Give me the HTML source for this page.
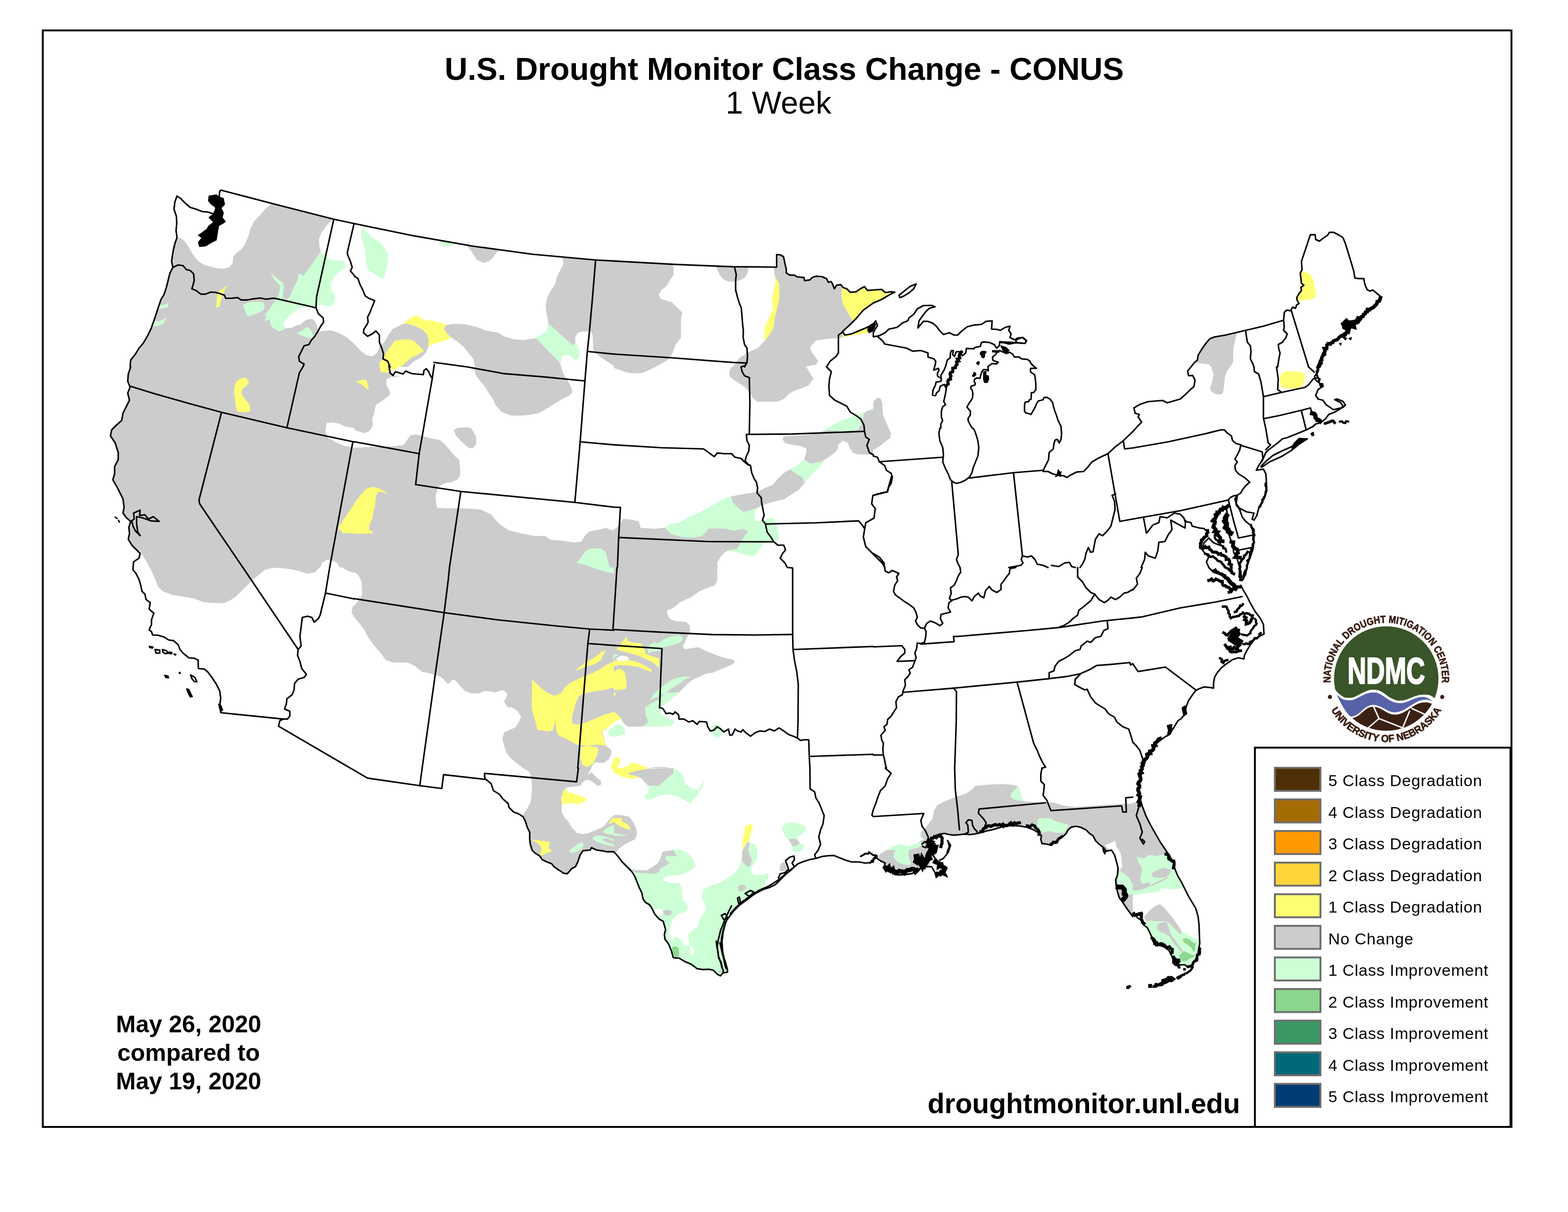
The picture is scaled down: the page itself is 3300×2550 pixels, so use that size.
<!DOCTYPE html>
<html lang="en"><head><meta charset="utf-8"><title>U.S. Drought Monitor Class Change - CONUS</title>
<style>
html,body{margin:0;padding:0;background:#fff;}
body{width:3300px;height:2550px;overflow:hidden;font-family:"Liberation Sans", Arial, Helvetica, sans-serif;}
svg{display:block;}
svg text{font-family:"Liberation Sans", Arial, Helvetica, sans-serif;fill:#000;}
</style></head><body>
<svg xmlns="http://www.w3.org/2000/svg" width="3300" height="2550" viewBox="0 0 3300 2550">
<rect x="0" y="0" width="3300" height="2550" fill="#fff"/>
<defs><clipPath id="us"><path d="M465,400 575,428.8 702.5,461.2 746,470.5 746,470.5 871,496.2 996,518 1121,535 1253.5,547 1292,549.2 1292,549.2 1417,556.2 1542,561.2 1634.5,562 1634.5,535.5 1642,536.2 1649,540 1652,555 1655,567.5 1654.5,573.8 1662,578.8 1672,578.8 1677,582.5 1692,583.8 1693.2,590.5 1704.5,588.8 1709.5,583.8 1717,581.2 1729.5,582 1739.5,586.2 1743.2,593.8 1749.5,592.5 1753.2,600 1755.8,607.5 1760.8,600 1769.5,598.8 1774.5,605 1782,607.5 1789.5,615 1802,613.8 1810.8,607.5 1819.5,603 1825.8,611.2 1838,610 1838,610 1855.5,608.8 1863,615.5 1875.5,613.8 1883,614.5 1870.5,621.2 1855.5,630 1838,637.5 1838,637.5 1817,652.5 1802,670 1789.5,682.5 1773.2,697.5 1778.2,705 1792,702.5 1807,696.2 1822,690 1838,682.5 1838,682.5 1843,675 1846.8,685 1841.8,692.5 1838,700 1838,708.8 1850.5,706.2 1863,700 1870.5,692.5 1888,688.8 1900.5,678.8 1910.5,675 1913,668.8 1923,661.2 1930.5,650 1943,643 1960.5,642.5 1968,645.5 1955.5,648.8 1948,656.2 1940.5,666.2 1934.2,675 1931.8,690 1938,682.5 1943,676.2 1953,676.2 1963,680 1970.5,686.2 1978,696.2 1985.5,703.8 1998,700 2008,705 2015.5,705 2023,697.5 2035.5,687.5 2050.5,683.8 2065.5,682.5 2075.5,676.2 2088,675 2086.8,692.5 2098,693 2105.5,695 2115.5,688.8 2125.5,686.2 2123,695 2128,702.5 2125.5,710 2135.5,715 2141.8,711.2 2153,710 2160.5,717 2156.8,722.5 2138,721.2 2123,723.8 2104.2,718.8 2103,727.5 2097.5,732.5 2092.5,725 2082.5,720.6 2070,719.4 2065.6,720.6 2063.1,728.8 2051.2,731.2 2050,733.8 2033.8,733.1 2032.5,742.5 2025,748.8 2021.2,740 2012.5,740 2008.8,750 2005,746.2 2006.2,737.5 2002.5,737.5 2000,743.8 2000,752.5 1993.8,757.5 1990,771.2 1986.2,780 1980,790 1981.2,798.8 1980,802.5 1970,803.8 1968.8,810 1963.8,820 1962.5,831.2 1968.8,832.5 1971.2,826.2 1976.2,822.5 1978.8,812.5 1987.5,808.8 1990,815 1992.5,811.2 1990,827.5 1986.2,845 1990,851.2 1983.8,856.2 1981.2,865 1981.2,877.5 1983.8,885 1980,892.5 1980,901 1978,901 1976,912 1978,927 1984.2,942 1985.5,957 1984.2,972 1989.2,984.5 1995.5,997 2000.5,1009.5 2006.8,1014.5 2013,1017 2023,1014.5 2033,1009.5 2040.5,1003.2 2045.5,994.5 2048,984.5 2053,972 2058,959.5 2060,942 2058,927 2054.2,914.5 2050.5,904.5 2047.5,901 2046.2,901 2041.2,892.5 2037.5,885 2037.5,880 2041.9,873.8 2042.5,865 2038.8,861.2 2035,856.2 2040,847.5 2043.8,842.5 2046.9,836.2 2047.5,827.5 2046.2,821.2 2043.1,817.5 2043.8,812.5 2051.9,810 2052.5,806.2 2050,802.5 2051.2,797.5 2056.2,795 2062.5,796.2 2063.8,790 2066.2,782.5 2070,777.5 2075,777.5 2080,780 2079.4,771.2 2082.5,768.8 2087.5,765 2097.5,765.6 2100.6,761.9 2093.8,760 2089.4,757.5 2088.8,751.2 2095,746.2 2100,738.8 2103.8,737.5 2112.5,741.2 2117.5,743.8 2125,741.2 2131.2,745 2135,751.2 2145,751.2 2150,755 2162.5,756.2 2167.5,760 2170,765 2175,770 2181.2,775 2168.8,775 2168.8,782.5 2173.8,786.2 2177.5,788.8 2178.8,796.2 2180,807.5 2180,820 2175,826.2 2170.6,826.2 2170,840 2166.2,841.2 2165,845 2157.5,846.2 2156.2,852.5 2156.2,865 2158.8,868.8 2165,870 2170,871.9 2173.8,865 2177.5,858.8 2181.2,850 2185,843.8 2195,841.2 2197.5,836.2 2203.8,836.2 2210,840 2215,846.2 2217.5,856.2 2220,865 2223,872.5 2223,872.5 2226.8,884.5 2233,897 2234.2,912 2233,924.5 2229.2,932 2225.5,924.5 2220.5,925.8 2218,934.5 2216.8,944.5 2208,952 2206.8,967 2201.8,977 2196.8,987 2195.5,992 2205.5,992 2215.5,997 2225.5,999.5 2238,1000.8 2245.5,1004.5 2253,999.5 2265.5,993.2 2280.5,992 2288,984.5 2298,972 2313,963.2 2331.8,954.5 2348,939.5 2363,928.2 2384,908.2 2384,908.2 2394,897 2402.8,888.2 2395.2,877 2397.8,872 2389,869.5 2386.5,858.2 2399,850.8 2416.5,845 2446.5,842.5 2456.5,847.5 2484,839.5 2494,830.8 2504,820.8 2512.8,813.2 2515,799.5 2510.2,790 2501.5,790.5 2499.5,780.8 2506.5,772 2506.5,772 2514,762.5 2520.2,757.5 2521.5,747.5 2529,735 2537.8,722.5 2546.5,712.5 2556.5,708.8 2579,705 2621.5,695 2659,686.2 2701.5,673.8 2702.8,657.5 2707.8,652.5 2716.5,653.8 2720.2,646.2 2726.5,648.8 2729,641.2 2734,638.8 2730.2,632.5 2729,626.2 2734,617.5 2739,611.2 2737.8,605 2744,600 2739,596.2 2737.8,585 2736.5,575 2740.2,567.5 2739,550 2744,535 2757.8,493.8 2767.8,493.8 2769,503.8 2776.5,507.5 2786.5,500 2794,495 2797.8,488.8 2806.5,488.8 2816.5,493.8 2826.5,500 2831.5,512.5 2841.5,545 2849,570 2851.5,585 2859,586.2 2870.2,586.2 2871.5,593.8 2874,602.5 2877.8,610 2884,612.5 2889,610 2896.5,616.2 2904,622.5 2906.5,627.5 2899,637.5 2889,647.5 2876.5,657.5 2864,670 2851.5,680 2839,692.5 2826.5,702.5 2816.5,712.5 2801.5,720 2791.5,730 2784,742.5 2779,755 2775.2,765 2771.5,772 2771.5,772 2774,782 2766.5,792 2769,799.5 2781.5,809.5 2784,813.2 2774,819.5 2769,832 2774,839.5 2784,842 2791.5,852 2799,857 2806.5,862 2816.5,859.5 2826.5,857 2831.5,852 2826.5,844.5 2814,839.5 2809,840.8 2821.5,847 2826.5,854.5 2824,858.2 2809,867 2796.5,872 2789,882 2779,889.5 2769,892 2764,897 2749,904.5 2734,910.8 2721.5,915.8 2709,920.8 2699,923.2 2689,932 2679,939.5 2669,947 2664,952 2656.5,969.5 2649,979.5 2644,989.5 2659,987 2664,997 2665.2,1012 2666,1032 2661.5,1047 2654,1059.5 2649,1069.5 2645.2,1084.5 2639,1094.5 2635.2,1092 2639,1079.5 2624,1077 2609,1069.5 2601.5,1059.5 2599,1049.5 2604,1042 2601.5,1062 2609,1072 2614,1087 2621.5,1097 2631.5,1104.5 2636.5,1117 2639,1129.5 2639,1142 2636.5,1157 2631.5,1172 2626.5,1184.5 2624,1194 2624,1194 2621.5,1209 2614,1221.5 2607.8,1214 2609,1194 2609,1194 2604,1177 2596.5,1162 2594,1147 2589,1132 2584,1117 2581.5,1102 2584,1087 2581.5,1072 2584,1064.5 2574,1067 2566.5,1079.5 2559,1092 2556.5,1107 2561.5,1122 2569,1134.5 2566.5,1147 2554,1142 2544,1132 2534,1142 2529,1154.5 2534,1162 2544,1172 2539,1182 2544,1194 2544,1194 2554,1204 2569,1209 2581.5,1219 2589,1229 2599,1236.5 2609,1232.8 2611.5,1231.5 2616.5,1241.5 2624,1254 2631.5,1269 2641.5,1286.5 2652.8,1301.5 2659,1314 2660.2,1334 2649,1339 2639,1346.5 2631.5,1356.5 2624,1369 2619,1379 2617.8,1386.5 2606.5,1384 2594,1387.8 2581.5,1396.5 2571.5,1404 2562.8,1414 2556.5,1424 2554,1436.5 2554,1447.8 2546.5,1446.5 2534,1445.2 2524,1449 2516.5,1452.8 2509,1462.8 2501.5,1474 2496.5,1486.5 2494,1501.5 2486.5,1511.5 2479,1516.5 2471.5,1529 2461.5,1544 2446.5,1554 2434,1564 2421.5,1584 2411.5,1599 2404,1616 2404,1616 2401.5,1631 2399,1646 2397.8,1661 2399,1678.5 2404,1696 2411.5,1716 2421.5,1736 2431.5,1753.5 2441.5,1771 2451.5,1786 2461.5,1801 2469,1813.5 2472.8,1828.5 2479,1843.5 2486.5,1856 2494,1871 2501.5,1886 2509,1898.5 2516.5,1911 2521.5,1928.5 2523.5,1946 2524,1960 2524.4,1972.5 2525,1985 2522.5,1997.5 2521.2,2007.5 2517.5,2016.2 2512.5,2025 2507.5,2031.2 2500,2035 2493.8,2030 2485,2030 2480,2031.2 2473.8,2031.2 2468.8,2026.2 2468.1,2013.8 2463.8,2007.5 2461.2,2001.2 2456.2,1996.2 2450,1992.5 2443.8,1990 2437.5,1988.8 2432.5,1990 2430,1985 2426.2,1980 2423.8,1972.5 2421.2,1965 2418.8,1960 2418.8,1960 2414,1951 2406.5,1946 2401.5,1936 2394,1931 2389,1923.5 2384,1926 2384,1928.5 2373,1913.5 2363,1898.5 2355.5,1888.5 2351.8,1876 2349.2,1863.5 2348,1851 2351.8,1841 2353,1826 2349.2,1811 2345.5,1798.5 2339.2,1788.5 2328,1791 2323,1783.5 2313,1776 2305.5,1768.5 2300.5,1758.5 2293,1753.5 2285.5,1746 2275.5,1741 2265.5,1738.5 2255.5,1739.8 2248,1746 2243,1754.8 2235.5,1761 2228,1766 2220.5,1771 2213,1778.5 2203,1776 2193,1774.8 2190.5,1766 2191.8,1758.5 2185.5,1752.2 2175.5,1746 2163,1741 2150.5,1738.5 2138,1737.2 2125.5,1737.2 2113,1738.5 2100.5,1742.2 2088,1746 2075.5,1748.5 2063,1752.2 2050.5,1754.8 2040.5,1756 2030.5,1754.8 2020.5,1756 2008,1757.2 1998,1756 1988,1753.5 1978,1754.8 1968,1758.5 1960.5,1763.5 1955.5,1771 1958,1791 1968,1806 1978,1816 1993,1826 1988,1836 1978,1838.5 1970.5,1846 1968,1836 1960.5,1823.5 1948,1823.5 1938,1826 1930.5,1833.5 1918,1838.5 1905.5,1839.8 1893,1841 1883,1839.8 1875.5,1833.5 1865.5,1828.5 1860.5,1823.5 1863,1816 1853,1811 1845.5,1806 1845.5,1799.8 1838,1806 1838,1813.5 1822,1816 1807,1813.5 1792,1813.5 1779.5,1809.8 1767,1804.8 1754.5,1799.8 1742,1800.5 1729.5,1802.2 1717,1806 1704.5,1808.5 1692,1812.2 1679.5,1817.2 1672,1823.5 1664.5,1831 1654.5,1838.5 1647,1846 1639.5,1853.5 1632,1861 1619.5,1867.2 1607,1871 1594.5,1877.2 1584.5,1883.5 1574.5,1891 1564.5,1898.5 1554.5,1906 1544.5,1916 1537,1926 1529.5,1936 1524.5,1948.5 1520.8,1961 1518.2,1976 1517.8,1991 1520,2006 1525.8,2021 1530.5,2038 1530.6,2038 1531.2,2045 1521.2,2047.5 1516.2,2053.1 1510,2050 1501.2,2041.2 1492.5,2039.4 1478.8,2039.8 1467.5,2038.1 1467,2038 1454.5,2028.5 1442,2023.5 1429.5,2016 1417,2014.8 1413.2,2001 1407,1986 1399.5,1976 1398.2,1966 1400.8,1956 1395.8,1938.5 1387,1933.5 1378.2,1923.5 1372,1911 1367,1903.5 1358.2,1898.5 1353.2,1891 1350.8,1878.5 1345.8,1868.5 1340.8,1856 1335.8,1843.5 1329.5,1833.5 1319.5,1823.5 1309.5,1813.5 1302,1803.5 1294.5,1794.8 1292,1792.2 1292,1792.2 1278.5,1792.2 1266,1789.8 1256,1788.5 1244.8,1783.5 1242.2,1788.5 1227.2,1789.8 1221,1798.5 1216,1813.5 1211,1823.5 1203.5,1827.2 1196,1836 1193.5,1838.5 1186,1837.2 1181,1833.5 1174.8,1829.8 1166,1823.5 1161,1817.2 1151,1813.5 1141,1808.5 1136,1801 1126,1794.8 1119.8,1788.5 1116,1776 1114.8,1766 1114.8,1751 1109.8,1741 1106,1728.5 1101,1718.5 1091,1712.2 1081,1708.5 1071,1698.5 1069.8,1691 1058.5,1681 1051,1671 1038.5,1663.5 1033.5,1648.5 1021,1638.5 1019.8,1632.2 1021,1639.8 933.5,1629.8 929.8,1659 883.5,1653 773.5,1637.2 586.2,1527.8 588.8,1516.5 596.2,1512.8 465,1499.5 465,1499.5 462.5,1484 464.5,1469 462.5,1454 455,1439 445,1424 437.5,1414 430,1407.8 417.5,1406.5 417,1389 410,1385.2 397.5,1384 385,1374 378.8,1366.5 375,1356.5 365,1347.8 355,1346.5 345,1340.2 332.5,1336.5 321.2,1336 318.8,1329 313.8,1325.2 318.8,1314 318.8,1304 323.8,1290.2 313.8,1281.5 316.2,1267.8 307.5,1261.5 305,1250.2 298.8,1244 296.2,1231.5 292.5,1219 286.2,1206.5 280,1199 280,1194 280,1194 281.2,1182 292.5,1174.5 295,1164.5 287.5,1157 277.5,1147 270,1134.5 272.5,1122 271.2,1109.5 275,1097 266.2,1089.5 258.8,1079.5 261.2,1067 258.8,1049.5 252.5,1037 246.2,1024.5 237.5,1009.5 241.2,997 241.2,982 248.8,967 248.8,952 242.5,932 232.5,917 235,904.5 245,894.5 256.2,884.5 258.8,869.5 267.5,852 272.5,842 268.8,827 273.8,814.5 268.8,802 270,787 275,772 273.8,772 275,757.5 285,745 292.5,732.5 301.2,722.5 310,707.5 317.5,692.5 323.8,675 328.8,660 333.8,645 338.8,630 345,620 350,605 353.8,590 357.5,575 362.5,565 363.8,562.5 361.2,550 362.5,540 365,525 368.8,510 372.5,500 370.5,485 372,470 371.2,455 366.2,440 368,425 372.5,412.5 380,417.5 390,427.5 400,436.2 412.5,440 425,445 437.5,446.2 450,450 460,425 462.5,402.5ZM1891.8,621.2 1903,612.5 1915.5,602.5 1928,597.5 1923,607.5 1913,616.2 1900.5,623.8 1894.2,626.2ZM2137.5,715.6 2150,710 2160,716.2 2157.5,722.5 2140,721.2ZM2655.2,983.2 2671.5,972 2696.5,960.8 2719,947 2734,934.5 2751.5,923.2 2736.5,925.8 2719,939.5 2699,948.2 2679,958.2 2664,970.8 2654,980.8ZM326.2,1366.5 336.2,1367.8 336.2,1374 328.8,1374.5ZM342,1366.5 350,1369 354.5,1374.5 347.5,1375.2 342.5,1371.5ZM401.2,1420.2 410,1425.2 414.5,1434.5 408.8,1434 403.8,1427.8Z"/></clipPath><pattern id="sp" width="13" height="11" patternUnits="userSpaceOnUse" patternTransform="rotate(33)"><rect width="13" height="11" fill="#000"/><path d="M1 1h4v3h-4z M7 5h4v4h-4z M2 8h2v2h-2z M9 0h2v2h-2z" fill="#fff"/></pattern></defs>
<g clip-path="url(#us)" stroke="none">
<svg x="200" y="350" width="546" height="422" viewBox="200 350 546 422">
<rect x="200" y="350" width="546" height="422" fill="#cccccc"/>
<path fill="#ffffff" d="M350,500 375,499.5 385,503.8 392.5,512.5 400,525 407.5,537.5 417.5,550 430,557.5 445,561.2 460,565 470,565.5 482.5,562.5 490,552.5 491.2,540 497.5,532.5 507.5,525 515,515 522.5,497.5 527.5,480 535,465 547.5,452.5 557.5,440 570,430.5 570,375 350,375Z"/>
<path fill="#ffffff" d="M698.8,460 696.2,465 685,477.5 675,492.5 671.2,505 672.5,520 676.2,530 746,530 746,460Z"/>
<path fill="#ffff73" d="M478.8,600 472.5,610 468.8,620 465,632.5 462.5,645 455,646.8 456.2,632.5 457.5,620 461.2,612.5 470,606.2Z"/>
<path fill="#ccffd5" d="M332.5,642.5 345,641.2 356.2,637 352.5,646.2 342.5,648.8 332.5,650 325,650Z"/>
<path fill="#ccffd5" d="M323.8,675 335,676.2 351.2,667.5 343.8,681.2 330,686.2 320,686.2 315,680Z"/>
<path fill="#ffffff" d="M671.8,500 673,515 674.9,529.4 665.5,642.5 639.2,646.2 625.5,650 616.8,657.5 608,665 600.5,672.5 596.8,678.8 597.4,687.5 603,690.6 614.2,690 623,685 633,682.5 639.2,676.2 648,671.9 658,671.2 663,676.2 666.1,682.5 668,690 671.8,697.5 683,696.2 695.5,695 700,696 716.8,702.5 730,710 746,724 760.5,737.5 760.5,500Z"/>
<path fill="#ccffd5" d="M674.9,529.4 683,536.9 688,541.9 695.5,546.2 704.2,548.1 715.5,547.5 723,549.4 726.8,555 726.1,562.5 720.5,568.1 713,572.5 706.8,578.8 700.5,587.5 694.9,598.8 696.8,608.8 701.8,616.2 704.9,623.8 704.9,632.5 701.8,639.4 696.8,643.8 689.2,644.4 683,642.5 673,641.9 665.5,642.5 653,643.8 639.2,646.2 625.5,650 616.8,657.5 608,665 600.5,672.5 596.8,678.8 597.4,687.5 603,690.6 595.5,693.8 587.4,697.5 579.2,692.5 571.8,687.5 569.2,680 567.4,673.1 565.5,672.2 556.8,676 561.8,663.1 554.9,666 568,648.8 579.2,632.5 583,626.2 586.8,618.8 588.6,610 589.9,601.2 583,595 576.8,587.5 573,580 568.6,572.8 576.8,580 585.5,587.5 594.9,594.4 598,603.8 596.1,613.8 594.9,625 594.9,630 603,630.6 609.9,623.8 616.8,607.5 625.5,591.2 627.4,580 628.6,575 638.6,580 648,567.5 660.5,550 669.2,537.5Z"/>
<path fill="#ccffd5" d="M511.1,642.2 520.5,636.9 531.8,635 543,634.8 553,636.2 556.8,641.2 556.8,647.5 553,653.8 545.5,657.5 535.5,661.2 525.5,665.6 521.1,666 516.8,656.2 513.6,647.5Z"/>
<path fill="#ccffd5" d="M624.9,701.2 635.5,695 646.1,688.1 653,692.5 656.8,700 659.2,706.2 656.8,711 648,711 635.5,706.2Z"/>
</svg>
<svg x="746" y="350" width="546" height="422" viewBox="746 350 546 422">
<path fill="#ccffd5" d="M761,480 766,481.2 783.5,500 798.5,508.8 808.5,520 816,535 816,550 812.2,570 808.5,582.5 802.2,586.2 796,581.2 788.5,576.2 776,570 771,557.5 769.8,540 768.5,525 763.5,510 759.8,495Z"/>
<path fill="#ccffd5" d="M921,500 923.5,507.5 932.2,517.5 938.5,519.5 946,517.5 953.5,517 958.5,512 961,500Z"/>
<path fill="#cccccc" d="M982.2,500 982.2,516.2 991,527.5 998.5,538.8 1003.5,546.2 1016,553 1028.5,550 1036,543.8 1043.5,533.8 1051,525 1051,500Z"/>
<path fill="#cccccc" d="M1183.5,525 1183.5,541.2 1186,555 1178.5,570 1171,585 1168.5,597.5 1158.5,612.5 1151,627.5 1148.5,642.5 1149.8,657.5 1153,672.5 1153.5,680 1206,727.5 1211,720 1210.5,710 1216,700 1226,697.5 1243.5,697.5 1247.2,705 1248.5,736.2 1258.5,747.5 1292,770 1292,525Z"/>
<path fill="#cccccc" d="M936,685 953.5,681.2 981,682.5 1006,688.8 1021,695 1036,697.5 1048.5,700 1063.5,708.8 1081,713.8 1101,715.5 1121,712.5 1131,713.8 1146,730 1161,745 1171,755 1179.8,766.2 1181,772 999.8,772 996,755 986,742.5 976,730 961,717.5 949.8,710 941,702.5 934.8,693.8Z"/>
<path fill="#ccffd5" d="M1153.5,680 1206,727.5 1211,720 1218.5,735 1219.8,747.5 1216,756.2 1208.5,757.5 1201,748.8 1191,746.2 1182.2,748.8 1179.8,766.2 1171,755 1161,745 1146,730 1131,713.8 1121,712.5 1138.5,705 1151,696.2Z"/>
<path fill="#cccccc" d="M848.5,681.2 858.5,681.2 871,685 888.5,692.5 898.5,702.5 902.2,715 901.5,730 896,742.5 886,752.5 871,760 858.5,772 798.5,772 797.2,750 799.8,730 808.5,720 816,707.5 826,692.5Z"/>
<path fill="#ffff73" d="M848.5,681.2 863.5,668.8 878.5,662.5 886,670 896,674.5 906,673.8 921,677.5 938.5,682.5 934.8,692.5 941,702.5 949.8,710 938.5,716.2 926,720 913.5,722.5 901.5,730 902.2,715 898.5,702.5 888.5,692.5 871,685 858.5,681.2Z"/>
<path fill="#ffff73" d="M831,717 851,713.8 868.5,715.5 882.2,727.5 892.2,738.8 881,745 866,752.5 853.5,762.5 843.5,772 798.5,772 798.5,762.5 808.5,747.5 821,730Z"/>
<path fill="#cccccc" d="M746,724 758.5,737.5 771,747.5 783.5,750 793.5,742.5 797.2,732.5 799.8,722.5 803.5,732.5 807.2,745 806,755 798.5,762.5 798.5,772 746,772Z"/>
</svg>
<svg x="1292" y="350" width="546" height="422" viewBox="1292 350 546 422">
<path fill="#cccccc" d="M1417,525 1417,558.8 1418.2,577.5 1409.5,590 1402,602.5 1392,610 1386.5,620 1390.8,628.8 1402,632.5 1414.5,636.2 1424.5,646.2 1435.8,657.5 1433.2,672.5 1433.2,710 1422,725 1414.5,745 1407,756.2 1392,765 1379.5,772 1292,772 1292,525Z"/>
<path fill="#cccccc" d="M1507,550 1507,561.2 1514.5,577.5 1522,587.5 1532,592 1547,592.5 1559.5,588.8 1568.2,583.8 1573.2,573.8 1575.8,562.5 1575.8,550Z"/>
<path fill="#cccccc" d="M1628.2,525 1628.2,562.5 1630.8,580 1632.5,595 1628.2,610 1625,625 1626.5,650 1619.5,667.5 1613.2,680 1609,691.2 1609,717.5 1602,725 1594.5,732.5 1582,737.5 1573.2,742.5 1557,752.5 1549.5,762.5 1542,772 1692,772 1702,770 1717,767.5 1722,760 1717,752.5 1709.5,742.5 1704.5,732.5 1709.5,725 1717,716.2 1742,713 1764.5,711.2 1774.5,710 1773.2,698.8 1794.5,675 1784.5,657.5 1774.5,640 1770.8,622.5 1772,608.8 1772,525Z"/>
<path fill="#ffff73" d="M1772,608.8 1770.8,622.5 1774.5,640 1784.5,657.5 1794.5,675 1838,637.5 1838,575 1772,575Z"/>
<path fill="#ffff73" d="M1773.2,710 1792,706.2 1838,697.5 1838,675 1817,685 1777,700Z"/>
<path fill="#ffff73" d="M1630.8,581.2 1635.8,590 1640,596.2 1640.2,620 1639.5,632.5 1635.8,647.5 1632.5,660 1630,672.5 1628.2,687.5 1624.5,696.2 1617,707.5 1609,718 1609,691.2 1613.2,680 1619.5,667.5 1626.5,650 1625,625 1628.2,610 1632.5,595Z"/>
</svg>
<svg x="1838" y="350" width="546" height="422" viewBox="1838 350 546 422">
<path fill="#ffff73" d="M1838,600 1888,600 1888,625 1838,650Z"/>
</svg>
<svg x="2384" y="350" width="546" height="422" viewBox="2384 350 546 422">
<path fill="#ffff73" d="M2721.5,567.5 2744,571.2 2759,578 2765.2,592.5 2766.5,605 2770.2,615 2767.8,626.2 2759,630 2744,631.2 2732.8,633.8 2721.5,635Z"/>
<path fill="#cccccc" d="M2604,698.8 2599,717.5 2596,732.5 2595.2,750 2596,760 2589,772 2549,772 2544,766.2 2519,763.8 2484,762.5 2534,700Z"/>
</svg>
<svg x="200" y="772" width="546" height="422" viewBox="200 772 546 422">
<rect x="200" y="772" width="546" height="422" fill="#cccccc"/>
<path fill="#ffff73" d="M492.5,817 496.2,804.5 505,796.5 517.5,794.5 524.2,804.5 517.5,813.2 510,818.2 508,828.2 513.8,837 525,850.8 527,864.5 517.5,867.5 498.8,865.8 495,847 493,829.5Z"/>
<path fill="#ffffff" d="M687.5,889.5 700,889 715,891.5 725,897 746,900.8 746,942 725,938.2 705,929.5 690,920.8 685,908.2Z"/>
<path fill="#ffff73" d="M746,1059.5 711.2,1110.8 722.5,1122 746,1122Z"/>
<path fill="#ffffff" d="M673.8,1194 678.8,1183.2 687.5,1178.2 697.5,1178.2 710,1184.5 715,1194Z"/>
<path fill="#ffffff" d="M295,1159.5 302.5,1172 310,1184.5 315,1194 275,1194 275,1159.5Z"/>
</svg>
<svg x="746" y="772" width="546" height="422" viewBox="746 772 546 422">
<path fill="#cccccc" d="M746,772 818.5,772 823.5,789.5 846,792 823.5,793.2 813.5,798.2 813,809.5 821,824.5 819.8,832 806,842 791,852 787.2,869.5 783.5,882 784.8,894.5 778.5,905.8 768.5,911.5 756,908.2 746,904.5Z"/>
<path fill="#cccccc" d="M746,942 771,940.8 813.5,939.5 848.5,937 856,927 863.5,915.8 876,914 888.5,917 906,922 926,925.8 938.5,937 951,952 958.5,960.8 966,967 968.5,984.5 968.5,999.5 963.5,1008.2 951,1014.5 938.5,1015.8 926,1022 921,1029.5 917.2,1042 917.2,1054.5 919.8,1068.2 936,1069.5 961,1069.5 986,1070 1011,1072 1033.5,1082 1043.5,1094.5 1053.5,1104.5 1071,1115.8 1096,1122 1121,1127 1148.5,1128.2 1158.5,1135.8 1183.5,1137.5 1208.5,1141.5 1223.5,1139.5 1231,1127 1239.8,1118.2 1258.5,1114.5 1276,1110.8 1283.5,1114.5 1292,1115.8 1292,1194 746,1194Z"/>
<path fill="#cccccc" d="M998.5,772 998.5,777 1001,789.5 1011,802 1021,814.5 1028.5,827 1036,837 1043.5,853.2 1056,867 1076,874.5 1106,874 1133.5,869.5 1151,859.5 1171,847 1186,838.2 1198.5,832 1204.8,824.5 1201,812 1193.5,799.5 1186,787 1181,772Z"/>
<path fill="#cccccc" d="M954.8,904.5 963.5,900 978.5,899 991,900 997.2,909.5 1002.2,919.5 1002.2,934.5 996,942.5 988.5,943.2 978.5,935.8 968.5,925.8 959.8,917Z"/>
<path fill="#ffff73" d="M799.8,772 818.5,772 821,782 813.5,784.5 801,782Z"/>
<path fill="#ffff73" d="M822.2,772 838.5,772 831,777 823.5,780.8Z"/>
<path fill="#ffff73" d="M747.2,803.2 761,799.5 771,799 774.8,812 776,822 768.5,814.5 758.5,807Z"/>
<path fill="#ffff73" d="M746,1058.2 758.5,1042 771,1028.2 783.5,1024.5 796,1027 808.5,1033.2 818.5,1040.8 806,1035.8 796,1034.5 791,1043.2 789.8,1059.5 786,1077 783.5,1092 777.2,1104.5 777.2,1114.5 787.2,1121.5 771,1122.5 746,1123.2Z"/>
<path fill="#ccffd5" d="M1213.5,1184 1223.5,1172 1233.5,1158.2 1243.5,1154 1263.5,1153.2 1274.8,1162 1278.5,1177 1283.5,1194 1246,1194 1231,1188.2Z"/>
</svg>
<svg x="1292" y="772" width="546" height="422" viewBox="1292 772 546 422">
<path fill="#cccccc" d="M1292,772 1379.5,772 1367,778.2 1352,784.5 1334.5,785.8 1317,783.2 1304.5,778.2 1292,774.5Z"/>
<path fill="#cccccc" d="M1539.5,772 1534.5,782 1535.8,792 1544.5,799.5 1557,807 1569.5,815.8 1577,825.8 1584.5,837 1593.2,845 1637,845 1649.5,839.5 1659.5,829.5 1672,822 1687,817 1702,810.8 1712,797 1704.5,784.5 1697,772Z"/>
<path fill="#cccccc" d="M1838,862 1824.5,864.5 1817,872 1815.8,889.5 1804.5,904.5 1767,908.2 1762,905.8 1742,904.5 1729.5,908.2 1704.5,914.5 1667,917 1649.5,918.2 1647,924.5 1652,932 1667,935.8 1684.5,938.2 1697,943.2 1697,952 1692,967 1707,975.8 1727,972 1739.5,964.5 1754.5,954.5 1762,947 1764.5,934.5 1774.5,927 1784.5,932 1789.5,944.5 1794.5,952 1804.5,955.8 1824.5,956.5 1838,957Z"/>
<path fill="#ccffd5" d="M1838,858.2 1817,868.2 1792,877 1774.5,883.2 1754.5,893.2 1729.5,908.2 1742,904.5 1762,905.8 1767,908.2 1804.5,904.5 1815.8,889.5 1817,872 1824.5,864.5 1838,861.5Z"/>
<path fill="#ccffd5" d="M1692,967 1707,975.8 1727,972 1737,968.2 1722,984.5 1704.5,1002 1693.2,1017 1689.5,1005.8 1662,987.5 1677,979.5Z"/>
<path fill="#cccccc" d="M1538.2,1044.5 1554.5,1041.5 1572,1038.2 1592,1035.8 1609.5,1027 1627,1019.5 1637,1007 1647,997 1662,987.5 1689.5,1005.8 1693.2,1017 1682,1029.5 1667,1039.5 1649.5,1050.8 1627,1055.8 1607,1062 1592,1069.5 1564.5,1077.5 1552,1067 1542,1057Z"/>
<path fill="#cccccc" d="M1292,1114.5 1302,1107 1305.8,1099.5 1312,1091.5 1329.5,1093.2 1344.5,1097 1348.2,1110.8 1379.5,1112.5 1399.5,1110 1404.5,1115.8 1412,1123.2 1424.5,1127 1442,1130.8 1462,1130.8 1478.2,1127 1484.5,1120.8 1492,1111.5 1527,1112 1544.5,1116.5 1563.2,1112 1574.5,1118.2 1564.5,1132 1557,1144.5 1552,1154.5 1532,1158.2 1522,1164.5 1514.5,1174.5 1509.5,1184.5 1510.8,1194 1292,1194Z"/>
<path fill="#ccffd5" d="M1399.5,1110 1412,1102 1429.5,1099.5 1447,1089.5 1472,1078.2 1492,1067 1512,1055.8 1527,1048.2 1538.2,1044.5 1542,1057 1552,1067 1564.5,1077.5 1592,1069.5 1603.2,1072 1605.8,1084.5 1604.5,1094.5 1627,1089 1633.2,1099.5 1637,1114.5 1640.2,1134.5 1628.2,1139.5 1607,1142 1602,1152 1595.8,1162 1583.2,1171.5 1567,1167 1549.5,1162 1532,1158.2 1552,1154.5 1557,1144.5 1564.5,1132 1574.5,1118.2 1563.2,1112 1544.5,1116.5 1527,1112 1492,1111.5 1484.5,1120.8 1478.2,1127 1462,1130.8 1442,1130.8 1424.5,1127 1412,1123.2 1404.5,1115.8Z"/>
<path fill="#ffffff" d="M1588.2,1079.5 1592,1070.8 1603.2,1072 1605.8,1084.5 1604.5,1094.5 1594.5,1097 1588.2,1094.5Z"/>
</svg>
<svg x="1838" y="772" width="546" height="422" viewBox="1838 772 546 422">
<path fill="#cccccc" d="M1838,844.5 1845.5,837 1853,837.5 1856.8,847 1858,872 1865.5,889.5 1875.5,912 1873,922 1863,929.5 1850.5,939.5 1838,947Z"/>
</svg>
<svg x="2384" y="772" width="546" height="422" viewBox="2384 772 546 422">
<path fill="#cccccc" d="M2549,772 2554,787 2551.5,802 2546.5,817 2550.2,824.5 2559,829.5 2569,830 2574,825.8 2576.5,809.5 2577.8,794.5 2581.5,782 2589,772Z"/>
<path fill="#ffff73" d="M2694,792 2699,784.5 2709,780.8 2729,781.5 2741.5,783.2 2746.5,789.5 2746,802 2741.5,812 2729,817 2709,817.5 2696.5,814.5 2694,802Z"/>
</svg>
<svg x="200" y="1194" width="546" height="422" viewBox="200 1194 546 422">
<path fill="#cccccc" d="M315,1194 322.5,1209 327.5,1221.5 332.5,1234 342.5,1244 362.5,1251.5 385,1255.2 407.5,1259 427.5,1266.5 445,1268.5 470,1269 482.5,1264 495,1256.5 505,1246.5 517.5,1234 530,1221.5 545,1209 557.5,1199 575,1194.5 600,1196 625,1200.2 647.5,1207 662.5,1204.5 672.5,1194Z"/>
<path fill="#cccccc" d="M720,1194 732.5,1201.5 746,1205.2 746,1194Z"/>
<path fill="#cccccc" d="M746,1271.5 741.2,1279 740,1289 746,1299Z"/>
</svg>
<svg x="746" y="1194" width="546" height="422" viewBox="746 1194 546 422">
<rect x="746" y="1194" width="546" height="422" fill="#cccccc"/>
<path fill="#ffffff" d="M746,1204 753.5,1209 761,1224 762.2,1251.5 756,1261.5 746,1274Z"/>
<path fill="#ffffff" d="M746,1299 756,1311.5 766,1324 773.5,1339 786,1356.5 801,1374 812.2,1389 828.5,1394 858.5,1394 873.5,1401.5 888.5,1413.5 901,1416 918.5,1420.2 931,1426.5 941,1437.8 946,1437.8 951,1430.2 957.2,1430.2 966,1440.2 978.5,1454 991,1458.5 1008.5,1459 1017.2,1454 1028.5,1454 1041,1457 1056,1452 1062.2,1454 1068,1461.5 1060.5,1476.5 1068.5,1487.8 1078.5,1488.5 1089.8,1496.5 1096.5,1507.8 1092.2,1519 1084.8,1530.2 1073.5,1535.2 1061.5,1540.2 1057.2,1554 1061.5,1571.5 1066,1584 1076,1596.5 1088.5,1606.5 1101,1616 746,1616Z"/>
<path fill="#ffff73" d="M1119.8,1429 1131,1440.2 1146,1454 1166,1464 1181,1457.8 1188.5,1446.5 1199.8,1437 1193.5,1450.2 1183.5,1464 1176,1489 1168.5,1516.5 1163.5,1536.5 1152.2,1539 1131,1535.2 1126,1516.5 1119,1491.5Z"/>
<path fill="#ffff73" d="M1199.8,1437 1216,1429 1231,1421.5 1246,1416.5 1261,1409 1276,1399 1292,1391.5 1292,1446.5 1271,1451.5 1246,1455.2 1231,1459 1218.5,1464 1211,1481.5 1203.5,1509 1204.8,1522.8 1218.5,1524 1236,1519 1256,1510.2 1271,1504 1292,1497.8 1292,1526.5 1278.5,1531.5 1266,1540.2 1271,1554 1274.8,1569 1256,1566.5 1236,1569 1213.5,1566.5 1196,1556.5 1176,1547.8 1171,1539 1168.5,1516.5 1176,1489 1183.5,1464 1193.5,1450.2Z"/>
<path fill="#ffff73" d="M1209.8,1412 1221,1401.5 1236,1391.5 1253.5,1381.5 1264.8,1372.8 1276,1366.5 1268.5,1379 1264.8,1389 1251,1397.8 1236,1401.5 1221,1407.8Z"/>
<path fill="#ffff73" d="M1223.5,1571.5 1236,1569 1256,1572 1259.8,1576.5 1256,1591.5 1248.5,1606.5 1236,1614 1226,1609 1221,1594Z"/>
<path fill="#ffffff" d="M1292.5,1520 1280,1530 1267.5,1540 1271.2,1552.5 1275,1568.8 1286.2,1577.5 1286.2,1587.5 1280,1598.8 1270,1605 1252.5,1603.8 1246.8,1610.2 1244.2,1616 1292,1616Z"/>
<path fill="#ccffd5" d="M1292,1530.2 1283.5,1534 1278.5,1541.5 1283.5,1549 1292,1550.2Z"/>
<path fill="#ccffd5" d="M1246,1194 1261,1199 1278.5,1204 1292,1206.5 1292,1194Z"/>
<path fill="#ccffd5" d="M1292,1376.5 1289,1386.5 1292,1389Z"/>
</svg>
<svg x="1292" y="1194" width="546" height="422" viewBox="1292 1194 546 422">
<path fill="#cccccc" d="M1292,1194 1509.5,1194 1509.5,1221.5 1504.5,1231.5 1489.5,1236.5 1472,1244 1454.5,1256.5 1432,1266.5 1417,1279 1404.5,1284 1404,1291.5 1409.5,1301.5 1419.5,1306.5 1434.5,1307.8 1444.5,1309 1452,1316.5 1452,1330.2 1448.2,1336.5 1442,1349 1437,1360.2 1442,1366 1454.5,1364 1469.5,1361.5 1482,1367.8 1497,1374 1512,1380.2 1529.5,1385.2 1543.2,1387.8 1547,1392.8 1539.5,1399 1527,1404 1512,1410.2 1499.5,1415.2 1484.5,1417.8 1472,1424 1457,1430.2 1448.2,1437.8 1439.5,1446.5 1432,1454 1427,1459 1417,1466.5 1409.5,1474 1399.5,1481.5 1388.2,1487.8 1389.5,1501.5 1402,1510.2 1414.5,1514 1419.5,1519 1412,1527.8 1379.5,1529 1352,1528.5 1322,1529 1312,1521.5 1307,1511.5 1292,1504Z"/>
<path fill="#ccffd5" d="M1367,1356.5 1377,1351.5 1384.5,1354 1397,1345.2 1412,1339 1429.5,1336 1437,1341.5 1435.8,1349 1422,1355.2 1404.5,1360.2 1393.2,1362 1389.5,1369 1379.5,1370.2 1369.5,1371.5 1364.5,1375.2 1363.2,1366.5Z"/>
<path fill="#ccffd5" d="M1367,1474 1377,1459 1387,1449 1399.5,1440.2 1414.5,1430.2 1429.5,1425.2 1442,1422.8 1455.8,1425.2 1442,1429 1434.5,1435.2 1424.5,1441.5 1412,1449 1404.5,1455.2 1387,1465.2 1377,1469Z"/>
<path fill="#ccffd5" d="M1399.5,1457.8 1428.2,1456.5 1427,1460.2 1417,1466.5 1409.5,1474 1399.5,1481.5 1388.2,1487.8 1389.5,1501.5 1402,1510.2 1414.5,1514 1419.5,1519 1412,1527.8 1379.5,1529 1352,1528.5 1364.5,1519 1359.5,1506.5 1357,1489 1367,1481.5 1387,1471.5Z"/>
<path fill="#ccffd5" d="M1497,1529 1504.5,1523.5 1514.5,1526.5 1518.2,1534 1519.5,1544 1512,1552 1504.5,1550.2 1497,1541.5Z"/>
<path fill="#ccffd5" d="M1292,1526.5 1304.5,1524 1314.5,1530.2 1315.8,1544 1304.5,1547.8 1292,1550.2Z"/>
<path fill="#ccffd5" d="M1292,1375.2 1302,1377.8 1292,1384Z"/>
<path fill="#ffff73" d="M1297,1366.5 1307,1354 1319.5,1338.5 1319,1347.8 1329.5,1351.5 1349.5,1354 1354.5,1361.5 1359.5,1376.5 1387,1385.2 1386.5,1405.2 1374.5,1394 1359.5,1386.5 1342,1379 1324.5,1374 1309.5,1370.2Z"/>
<path fill="#ffff73" d="M1292,1389 1307,1391.5 1324.5,1389 1342,1392.8 1359.5,1401.5 1372,1409 1370.8,1414 1357,1409 1342,1402.8 1322,1400.2 1307,1399 1292,1401.5Z"/>
<path fill="#ffffff" d="M1295.8,1386.5 1307,1379 1319.5,1381.5 1324.5,1385.2 1318.2,1391 1302,1391Z"/>
<path fill="#ffff73" d="M1292,1414 1299.5,1407.8 1307,1407.8 1314.5,1414 1317,1426.5 1319,1441.5 1317,1449 1307,1451.5 1292,1451.5Z"/>
<path fill="#ffff73" d="M1292,1456.5 1295.8,1457.8 1294.5,1465.2 1292,1465.2Z"/>
<path fill="#ffff73" d="M1292,1496.5 1307,1511.5 1302,1515.2 1292,1517.8Z"/>
<path fill="#ffff73" d="M1292,1600.2 1302,1591.5 1304.5,1604 1299.5,1616 1292,1616Z"/>
<path fill="#ffff73" d="M1312,1616 1334.5,1604 1349.5,1610.2 1364.5,1616Z"/>
<path fill="#cccccc" d="M1364.5,1616 1379.5,1614 1399.5,1614 1409.5,1616Z"/>
</svg>
<svg x="1838" y="1194" width="546" height="422" viewBox="1838 1194 546 422">
</svg>
<svg x="2384" y="1194" width="546" height="422" viewBox="2384 1194 546 422">
</svg>
<svg x="746" y="1616" width="546" height="422" viewBox="746 1616 546 422">
<path fill="#cccccc" d="M1101,1616 1113.5,1623.5 1118.5,1636 1119.8,1658.5 1117.2,1686 1108.5,1703.5 1099.8,1716 1071,1716 1071,1866 1292,1866 1292,1616Z"/>
<path fill="#ffffff" d="M1191,1657.2 1221,1653.5 1229.8,1642.2 1244.8,1616 1292,1616 1292,1716 1281,1726 1271,1738.5 1256,1746 1238.5,1753 1226,1754.8 1213.5,1752.2 1203.5,1741 1196,1728.5 1187.2,1718.5 1182.2,1708.5 1182.2,1691 1181,1681 1184.8,1666Z"/>
<path fill="#cccccc" d="M1228.5,1643.5 1236,1631 1244.8,1624.8 1256,1636 1264.8,1643.5 1264.8,1651 1258.5,1653.5 1246,1644 1236,1640.5Z"/>
<path fill="#ffff73" d="M1192.2,1657.2 1193.5,1666 1208.5,1669.8 1221,1674.8 1234.8,1680.5 1229.8,1687.2 1221,1691 1208.5,1691 1196,1689.8 1182.2,1693.5 1181.5,1681 1184.8,1666Z"/>
<path fill="#ffff73" d="M1116,1766 1136,1768.5 1157.2,1771 1154.8,1783.5 1161.5,1791 1151,1794.8 1139.8,1799.8 1136,1801 1139.8,1788.5 1137.2,1778.5 1128.5,1772.2Z"/>
<path fill="#ccffd5" d="M1198.5,1788.5 1206,1783.5 1213.5,1777.2 1221,1773.5 1227.2,1772.2 1228,1781 1221,1788.5 1208.5,1793.5 1199.8,1794.8Z"/>
<path fill="#ccffd5" d="M1292,1736 1278.5,1741 1268.5,1749.8 1276,1754.8 1292,1756Z"/>
<path fill="#ccffd5" d="M1248.5,1761 1256,1758 1271,1759.8 1292,1766 1292,1781 1271,1776 1256,1771 1247.2,1766Z"/>
<path fill="#cccccc" d="M1266,1766 1276,1763.5 1292,1769.8 1292,1776 1276,1772.2Z"/>
<path fill="#ffff73" d="M1292,1719.8 1284.8,1726 1281,1734.8 1292,1728.5Z"/>
</svg>
<svg x="1292" y="1616" width="546" height="422" viewBox="1292 1616 546 422">
<path fill="#ffff73" d="M1292,1616 1364.5,1616 1349.5,1626 1342,1637.2 1324.5,1638.5 1307,1633.5 1292,1626Z"/>
<path fill="#cccccc" d="M1322,1627.2 1337,1622.2 1364.5,1617.2 1417,1616 1418.2,1626 1402,1639.8 1385.8,1653.5 1364.5,1653.5 1357,1646 1349.5,1637.2 1334.5,1631Z"/>
<path fill="#ccffd5" d="M1417,1616 1427,1621 1437,1631 1440.8,1641 1441.5,1651 1449.5,1653.5 1458.2,1661 1469.5,1661 1477,1648.5 1480.8,1639.8 1479.5,1653.5 1472,1666 1467,1676 1457,1683.5 1454.5,1691 1442,1684.8 1429.5,1677.2 1414.5,1672.2 1392,1672.2 1379.5,1677.2 1369.5,1682.2 1359.5,1681.5 1355.8,1676 1364.5,1666 1365.8,1653.5 1385.8,1653.5 1402,1639.8 1418.2,1626Z"/>
<path fill="#cccccc" d="M1292,1714.8 1307,1714.8 1324.5,1718.5 1332,1728.5 1338.2,1741 1340.8,1753.5 1337,1766 1324.5,1771 1312,1778.5 1302,1786 1297,1793.5 1292,1791Z"/>
<path fill="#ffff73" d="M1292,1721 1307,1721 1309.5,1728.5 1319.5,1733.5 1325.8,1741 1325.8,1746 1317,1743.5 1304.5,1738.5 1292,1729.8Z"/>
<path fill="#ccffd5" d="M1292,1752.2 1307,1756 1322,1756 1307,1759 1292,1758.5Z"/>
<path fill="#ccffd5" d="M1394.5,1792.2 1417,1787.2 1432,1788 1444.5,1793.5 1454.5,1802.2 1462,1813.5 1464,1821 1454.5,1831 1442,1837.2 1432,1841 1480.8,1871 1499.5,1862.2 1517,1856 1532,1847.2 1544.5,1838.5 1553.2,1828.5 1557,1818.5 1560.8,1811 1562,1791 1567,1781 1577,1771 1592,1778.5 1593.2,1791 1594.5,1801 1589.5,1813.5 1582,1823.5 1580.8,1833.5 1587,1841 1602,1841 1617,1837.2 1618.2,1846 1612,1853.5 1608.2,1866 1617,1891 1542,2038 1417,2038 1292,1816 1319.5,1823.5 1337,1831 1374.5,1830.5 1384.5,1816 1392,1798.5Z"/>
<path fill="#cccccc" d="M1319.5,1819.8 1329.5,1826 1337,1836 1362,1837.2 1379.5,1838.5 1388.2,1833.5 1387,1828.5 1402,1821 1409.5,1814.8 1399.5,1808.5 1402,1801 1424.5,1801 1417,1788.5 1394.5,1792.2 1389.5,1808.5 1384.5,1816 1374.5,1823.5 1362,1831 1337,1831Z"/>
<path fill="#ffffff" d="M1395.8,1848.5 1397,1853.5 1409.5,1857.2 1429.5,1858.5 1434,1866 1435.8,1886 1438.2,1896 1445.8,1902.2 1448.2,1908.5 1442,1918.5 1427,1922.2 1417,1933.5 1412,1946 1408.2,1961 1409.5,1976 1414.5,1981 1419.5,1971 1427,1972.2 1437,1981 1439.5,1991 1452,1988.5 1459.5,1996 1462,2003.5 1455.8,2011 1453.2,2002.2 1448.2,1966 1457,1958.5 1469.5,1948.5 1472,1936 1479.5,1923.5 1485.8,1913.5 1484.5,1903.5 1478.2,1893.5 1477,1883.5 1480.8,1871 1432,1841 1422,1842.2 1402,1843.5Z"/>
<path fill="#ffffff" d="M1377,1914.8 1384.5,1911 1392,1913.5 1395.8,1919.8 1392,1927.2 1384.5,1928.5 1378.2,1922.2Z"/>
<path fill="#cccccc" d="M1395.8,1916 1404.5,1914 1414,1917.2 1412,1925.5 1402,1926.5 1395.8,1923.5Z"/>
<path fill="#cccccc" d="M1560.8,1811 1562,1791 1567,1781 1574.5,1769.8 1577,1776 1574.5,1788.5 1579.5,1801 1582.5,1811 1579.5,1821 1574.5,1824 1567,1818.5Z"/>
<path fill="#cccccc" d="M1552,1866 1558.2,1861.5 1567,1862.2 1572,1868.5 1567,1871 1562,1876 1554.5,1874.8Z"/>
<path fill="#cccccc" d="M1640.8,1823.5 1644.5,1816 1652,1813.5 1655.8,1823.5 1654.5,1831 1645.8,1833.5 1640.8,1831Z"/>
<path fill="#ffff73" d="M1568.2,1738.5 1578.2,1734 1585,1737.2 1580.8,1751 1577,1769.8 1572,1772.2 1567,1778.5 1562.5,1791 1563.2,1766 1567,1753.5Z"/>
<path fill="#ccffd5" d="M1647,1738.5 1654.5,1731.5 1667,1730.5 1682,1733 1694.5,1738.5 1695.8,1747.2 1689.5,1753.5 1678.2,1759.8 1683.2,1774.8 1692,1776 1693.2,1782.2 1684.5,1791 1672,1794 1667,1788.5 1665.8,1777.2 1659.5,1766 1652,1758.5 1647,1748.5Z"/>
<path fill="#cccccc" d="M1659.5,1766 1672,1764 1678.2,1768.5 1683.2,1774.8 1672,1781.5 1665.8,1777.2Z"/>
<path fill="#8cd68e" d="M1414,1993.5 1422,1991 1428.2,1994.8 1429.5,2008.5 1427,2013.5 1419.5,2012.2 1415.8,2003.5Z"/>
</svg>
<svg x="1838" y="1616" width="546" height="422" viewBox="1838 1616 546 422">
<path fill="#cccccc" d="M2053,1653.5 2075.5,1651 2108,1649.8 2130.5,1651 2141.8,1654.8 2146.8,1663.5 2149.2,1676 2155.5,1686 2173,1687.2 2200.5,1688.5 2218,1688.5 2238,1694.8 2263,1698 2288,1696 2325.5,1693.5 2369.2,1691 2384,1691 2384,1941 2338,1866 2163,1791 2013,1791 1955.5,1776 1935.5,1758.5 1938,1751 1948,1741 1963,1721 1965.5,1706 1973,1693.5 1988,1686 2013,1676 2033,1669.8 2045.5,1661Z"/>
<path fill="#cccccc" d="M1848,1803.5 1853,1796 1865.5,1788.5 1878,1781 1893,1776 1910.5,1781 1925.5,1776 1938,1768.5 1948,1766 1955.5,1776 1958,1841 1863,1841 1848,1816Z"/>
<path fill="#ccffd5" d="M1865.5,1788.5 1878,1781 1893,1776 1910.5,1781 1925.5,1776 1938,1768.5 1940.5,1776 1933,1783.5 1913,1788.5 1911.8,1801 1916.8,1816 1915.5,1821 1900.5,1818.5 1888,1813.5 1880.5,1803.5 1881.8,1793.5 1885.5,1788.5 1875.5,1788.5Z"/>
<path fill="#ccffd5" d="M1934.2,1758.5 1938,1752.2 1940.5,1756 1938,1761Z"/>
<path fill="#ffffff" d="M2325.5,1778.5 2338,1773.5 2346.8,1768.5 2349.2,1781 2358,1793.5 2360.5,1808.5 2361.8,1823.5 2356.8,1831 2348,1811 2338,1791Z"/>
<path fill="#ccffd5" d="M2356.8,1831 2365.5,1838.5 2375.5,1846 2384,1861 2384,1881 2375.5,1882.2 2363,1871 2353,1861 2353,1841Z"/>
<path fill="#ccffd5" d="M2184.2,1723.5 2195.5,1721 2210.5,1721.5 2220.5,1727.2 2238,1732.2 2250.5,1736.5 2243,1746 2238,1752.2 2223,1752.2 2208,1748.5 2193,1752.2 2188,1746 2183,1736Z"/>
<path fill="#ccffd5" d="M2125.5,1676 2130.5,1666 2141.8,1655.5 2146.8,1663.5 2149.2,1676 2155.5,1686 2145.5,1684.8 2133,1681.5Z"/>
</svg>
<svg x="2384" y="1616" width="546" height="422" viewBox="2384 1616 546 422">
<path fill="#cccccc" d="M2384,1688.5 2534,1688.5 2534,1866 2489,1868.5 2466.5,1871 2442.8,1868.5 2437.8,1876 2409,1879.8 2384,1882.2Z"/>
<path fill="#ccffd5" d="M2392.8,1802.2 2406.5,1806 2419,1798.5 2434,1801 2450.2,1798 2534,1798 2534,1867.2 2489,1868.5 2466.5,1871 2442.8,1868.5 2437.8,1876 2409,1879.8 2384,1882.2 2384,1873.5 2394,1873.5 2411.5,1868.5 2421.5,1863.5 2419,1856 2404,1859.8 2399,1851 2401.5,1841 2404,1831 2401.5,1823.5 2395.2,1813.5Z"/>
<path fill="#cccccc" d="M2422.8,1838.5 2434,1831 2449,1826 2461.5,1828.5 2465.2,1833.5 2459,1841 2454,1846 2439,1847.2 2426.5,1844.8Z"/>
<path fill="#cccccc" d="M2421.5,1862.2 2439,1853.5 2456.5,1846 2459,1847.2 2441.5,1856 2424,1864.8Z"/>
<path fill="#ccffd5" d="M2411.5,1938.5 2429,1938 2455.2,1938.5 2471.5,1953.5 2486.5,1959 2501.5,1967.2 2520.2,1977.2 2534,1991 2534,2038 2459,2038 2409,1953.5Z"/>
<path fill="#cccccc" d="M2407.8,1928.5 2419,1916 2431.5,1906 2441.5,1902.2 2451.5,1911 2461.5,1923.5 2471.5,1936 2480.2,1948.5 2486.5,1959 2484,1966 2471.5,1953.5 2461.5,1943.5 2455.2,1938.5 2429,1938 2419,1937.2 2411.5,1938.5Z"/>
<path fill="#cccccc" d="M2436.5,1943.5 2455.2,1938.5 2459,1951 2464,1966 2471.5,1976 2479,1986 2486.5,1996 2491.5,2006 2484,2001 2476.5,1991 2469,1983.5 2461.5,1971 2451.5,1963.5 2441.5,1961 2434,1953.5Z"/>
<path fill="#8cd68e" d="M2488.8,1976.2 2495,1973.8 2503.8,1976.2 2508.8,1981.2 2513.8,1985 2516.9,1983.8 2515.6,1995 2513.8,2002.5 2511.2,2001.2 2507.5,1993.8 2500,1987.5 2492.5,1983.8Z"/>
<path fill="#8cd68e" d="M2491.2,2001.2 2497.5,2003.8 2505,2007.5 2512.5,2010 2515,2007.5 2512.5,2013.8 2503.8,2016.2 2497.5,2021.2 2487.5,2022.5 2483.8,2016.2 2481.2,2011.2Z"/>
</svg>
<svg x="1292" y="2038" width="546" height="80" viewBox="1292 2038 546 80">
<path fill="#ccffd5" d="M1460,2030 1535,2030 1535,2055 1497.5,2055Z"/>
<path fill="#cccccc" d="M1510,2045 1516.2,2041.9 1521.2,2040.6 1518.8,2045 1515,2048.1Z"/>
</svg>
<svg x="1252" y="1576" width="80" height="80" viewBox="1252 1576 80 80">
<path fill="#cccccc" d="M1225,1562.5 1260,1572.5 1275,1571.2 1286.2,1577.5 1286.2,1587.5 1280,1598.8 1270,1605 1252.5,1603.8 1245,1612.5 1243.8,1625 1262.5,1642.5 1265,1648.8 1260,1652.5 1250,1647.5 1235,1641.2 1225,1645Z"/>
<path fill="#ffff73" d="M1222.5,1570 1240,1568.8 1255,1571.2 1260,1576.2 1256.2,1590 1250,1602.5 1236.2,1612.5 1226.2,1606.2 1221.2,1590Z"/>
<path fill="#ffff73" d="M1285,1615 1292.5,1595 1302.5,1592 1305,1603.8 1300,1616.2 1312.5,1615.5 1335,1604.5 1350,1610 1363.8,1615.5 1347.5,1620 1330,1625 1321.2,1627.5 1335,1633.8 1347.5,1636.2 1325,1638 1307.5,1632.5 1292.5,1623.8Z"/>
<path fill="#cccccc" d="M1321.2,1627.5 1330,1625 1347.5,1620 1363.8,1615.5 1375,1614.5 1375,1655 1350,1636.2 1347.5,1636.2 1335,1633.8Z"/>
</svg>
</g>
<g fill="none" stroke="#000" stroke-width="3.2" stroke-linejoin="round" stroke-linecap="round">
<path d="M465,400 575,428.8 702.5,461.2 746,470.5 746,470.5 871,496.2 996,518 1121,535 1253.5,547 1292,549.2 1292,549.2 1417,556.2 1542,561.2 1634.5,562 1634.5,535.5 1642,536.2 1649,540 1652,555 1655,567.5 1654.5,573.8 1662,578.8 1672,578.8 1677,582.5 1692,583.8 1693.2,590.5 1704.5,588.8 1709.5,583.8 1717,581.2 1729.5,582 1739.5,586.2 1743.2,593.8 1749.5,592.5 1753.2,600 1755.8,607.5 1760.8,600 1769.5,598.8 1774.5,605 1782,607.5 1789.5,615 1802,613.8 1810.8,607.5 1819.5,603 1825.8,611.2 1838,610 1838,610 1855.5,608.8 1863,615.5 1875.5,613.8 1883,614.5 1870.5,621.2 1855.5,630 1838,637.5 1838,637.5 1817,652.5 1802,670 1789.5,682.5 1773.2,697.5 1778.2,705 1792,702.5 1807,696.2 1822,690 1838,682.5 1838,682.5 1843,675 1846.8,685 1841.8,692.5 1838,700 1838,708.8 1850.5,706.2 1863,700 1870.5,692.5 1888,688.8 1900.5,678.8 1910.5,675 1913,668.8 1923,661.2 1930.5,650 1943,643 1960.5,642.5 1968,645.5 1955.5,648.8 1948,656.2 1940.5,666.2 1934.2,675 1931.8,690 1938,682.5 1943,676.2 1953,676.2 1963,680 1970.5,686.2 1978,696.2 1985.5,703.8 1998,700 2008,705 2015.5,705 2023,697.5 2035.5,687.5 2050.5,683.8 2065.5,682.5 2075.5,676.2 2088,675 2086.8,692.5 2098,693 2105.5,695 2115.5,688.8 2125.5,686.2 2123,695 2128,702.5 2125.5,710 2135.5,715 2141.8,711.2 2153,710 2160.5,717 2156.8,722.5 2138,721.2 2123,723.8 2104.2,718.8 2103,727.5 2097.5,732.5 2092.5,725 2082.5,720.6 2070,719.4 2065.6,720.6 2063.1,728.8 2051.2,731.2 2050,733.8 2033.8,733.1 2032.5,742.5 2025,748.8 2021.2,740 2012.5,740 2008.8,750 2005,746.2 2006.2,737.5 2002.5,737.5 2000,743.8 2000,752.5 1993.8,757.5 1990,771.2 1986.2,780 1980,790 1981.2,798.8 1980,802.5 1970,803.8 1968.8,810 1963.8,820 1962.5,831.2 1968.8,832.5 1971.2,826.2 1976.2,822.5 1978.8,812.5 1987.5,808.8 1990,815 1992.5,811.2 1990,827.5 1986.2,845 1990,851.2 1983.8,856.2 1981.2,865 1981.2,877.5 1983.8,885 1980,892.5 1980,901 1978,901 1976,912 1978,927 1984.2,942 1985.5,957 1984.2,972 1989.2,984.5 1995.5,997 2000.5,1009.5 2006.8,1014.5 2013,1017 2023,1014.5 2033,1009.5 2040.5,1003.2 2045.5,994.5 2048,984.5 2053,972 2058,959.5 2060,942 2058,927 2054.2,914.5 2050.5,904.5 2047.5,901 2046.2,901 2041.2,892.5 2037.5,885 2037.5,880 2041.9,873.8 2042.5,865 2038.8,861.2 2035,856.2 2040,847.5 2043.8,842.5 2046.9,836.2 2047.5,827.5 2046.2,821.2 2043.1,817.5 2043.8,812.5 2051.9,810 2052.5,806.2 2050,802.5 2051.2,797.5 2056.2,795 2062.5,796.2 2063.8,790 2066.2,782.5 2070,777.5 2075,777.5 2080,780 2079.4,771.2 2082.5,768.8 2087.5,765 2097.5,765.6 2100.6,761.9 2093.8,760 2089.4,757.5 2088.8,751.2 2095,746.2 2100,738.8 2103.8,737.5 2112.5,741.2 2117.5,743.8 2125,741.2 2131.2,745 2135,751.2 2145,751.2 2150,755 2162.5,756.2 2167.5,760 2170,765 2175,770 2181.2,775 2168.8,775 2168.8,782.5 2173.8,786.2 2177.5,788.8 2178.8,796.2 2180,807.5 2180,820 2175,826.2 2170.6,826.2 2170,840 2166.2,841.2 2165,845 2157.5,846.2 2156.2,852.5 2156.2,865 2158.8,868.8 2165,870 2170,871.9 2173.8,865 2177.5,858.8 2181.2,850 2185,843.8 2195,841.2 2197.5,836.2 2203.8,836.2 2210,840 2215,846.2 2217.5,856.2 2220,865 2223,872.5 2223,872.5 2226.8,884.5 2233,897 2234.2,912 2233,924.5 2229.2,932 2225.5,924.5 2220.5,925.8 2218,934.5 2216.8,944.5 2208,952 2206.8,967 2201.8,977 2196.8,987 2195.5,992 2205.5,992 2215.5,997 2225.5,999.5 2238,1000.8 2245.5,1004.5 2253,999.5 2265.5,993.2 2280.5,992 2288,984.5 2298,972 2313,963.2 2331.8,954.5 2348,939.5 2363,928.2 2384,908.2 2384,908.2 2394,897 2402.8,888.2 2395.2,877 2397.8,872 2389,869.5 2386.5,858.2 2399,850.8 2416.5,845 2446.5,842.5 2456.5,847.5 2484,839.5 2494,830.8 2504,820.8 2512.8,813.2 2515,799.5 2510.2,790 2501.5,790.5 2499.5,780.8 2506.5,772 2506.5,772 2514,762.5 2520.2,757.5 2521.5,747.5 2529,735 2537.8,722.5 2546.5,712.5 2556.5,708.8 2579,705 2621.5,695 2659,686.2 2701.5,673.8 2702.8,657.5 2707.8,652.5 2716.5,653.8 2720.2,646.2 2726.5,648.8 2729,641.2 2734,638.8 2730.2,632.5 2729,626.2 2734,617.5 2739,611.2 2737.8,605 2744,600 2739,596.2 2737.8,585 2736.5,575 2740.2,567.5 2739,550 2744,535 2757.8,493.8 2767.8,493.8 2769,503.8 2776.5,507.5 2786.5,500 2794,495 2797.8,488.8 2806.5,488.8 2816.5,493.8 2826.5,500 2831.5,512.5 2841.5,545 2849,570 2851.5,585 2859,586.2 2870.2,586.2 2871.5,593.8 2874,602.5 2877.8,610 2884,612.5 2889,610 2896.5,616.2 2904,622.5 2906.5,627.5 2899,637.5 2889,647.5 2876.5,657.5 2864,670 2851.5,680 2839,692.5 2826.5,702.5 2816.5,712.5 2801.5,720 2791.5,730 2784,742.5 2779,755 2775.2,765 2771.5,772 2771.5,772 2774,782 2766.5,792 2769,799.5 2781.5,809.5 2784,813.2 2774,819.5 2769,832 2774,839.5 2784,842 2791.5,852 2799,857 2806.5,862 2816.5,859.5 2826.5,857 2831.5,852 2826.5,844.5 2814,839.5 2809,840.8 2821.5,847 2826.5,854.5 2824,858.2 2809,867 2796.5,872 2789,882 2779,889.5 2769,892 2764,897 2749,904.5 2734,910.8 2721.5,915.8 2709,920.8 2699,923.2 2689,932 2679,939.5 2669,947 2664,952 2656.5,969.5 2649,979.5 2644,989.5 2659,987 2664,997 2665.2,1012 2666,1032 2661.5,1047 2654,1059.5 2649,1069.5 2645.2,1084.5 2639,1094.5 2635.2,1092 2639,1079.5 2624,1077 2609,1069.5 2601.5,1059.5 2599,1049.5 2604,1042 2601.5,1062 2609,1072 2614,1087 2621.5,1097 2631.5,1104.5 2636.5,1117 2639,1129.5 2639,1142 2636.5,1157 2631.5,1172 2626.5,1184.5 2624,1194 2624,1194 2621.5,1209 2614,1221.5 2607.8,1214 2609,1194 2609,1194 2604,1177 2596.5,1162 2594,1147 2589,1132 2584,1117 2581.5,1102 2584,1087 2581.5,1072 2584,1064.5 2574,1067 2566.5,1079.5 2559,1092 2556.5,1107 2561.5,1122 2569,1134.5 2566.5,1147 2554,1142 2544,1132 2534,1142 2529,1154.5 2534,1162 2544,1172 2539,1182 2544,1194 2544,1194 2554,1204 2569,1209 2581.5,1219 2589,1229 2599,1236.5 2609,1232.8 2611.5,1231.5 2616.5,1241.5 2624,1254 2631.5,1269 2641.5,1286.5 2652.8,1301.5 2659,1314 2660.2,1334 2649,1339 2639,1346.5 2631.5,1356.5 2624,1369 2619,1379 2617.8,1386.5 2606.5,1384 2594,1387.8 2581.5,1396.5 2571.5,1404 2562.8,1414 2556.5,1424 2554,1436.5 2554,1447.8 2546.5,1446.5 2534,1445.2 2524,1449 2516.5,1452.8 2509,1462.8 2501.5,1474 2496.5,1486.5 2494,1501.5 2486.5,1511.5 2479,1516.5 2471.5,1529 2461.5,1544 2446.5,1554 2434,1564 2421.5,1584 2411.5,1599 2404,1616 2404,1616 2401.5,1631 2399,1646 2397.8,1661 2399,1678.5 2404,1696 2411.5,1716 2421.5,1736 2431.5,1753.5 2441.5,1771 2451.5,1786 2461.5,1801 2469,1813.5 2472.8,1828.5 2479,1843.5 2486.5,1856 2494,1871 2501.5,1886 2509,1898.5 2516.5,1911 2521.5,1928.5 2523.5,1946 2524,1960 2524.4,1972.5 2525,1985 2522.5,1997.5 2521.2,2007.5 2517.5,2016.2 2512.5,2025 2507.5,2031.2 2500,2035 2493.8,2030 2485,2030 2480,2031.2 2473.8,2031.2 2468.8,2026.2 2468.1,2013.8 2463.8,2007.5 2461.2,2001.2 2456.2,1996.2 2450,1992.5 2443.8,1990 2437.5,1988.8 2432.5,1990 2430,1985 2426.2,1980 2423.8,1972.5 2421.2,1965 2418.8,1960 2418.8,1960 2414,1951 2406.5,1946 2401.5,1936 2394,1931 2389,1923.5 2384,1926 2384,1928.5 2373,1913.5 2363,1898.5 2355.5,1888.5 2351.8,1876 2349.2,1863.5 2348,1851 2351.8,1841 2353,1826 2349.2,1811 2345.5,1798.5 2339.2,1788.5 2328,1791 2323,1783.5 2313,1776 2305.5,1768.5 2300.5,1758.5 2293,1753.5 2285.5,1746 2275.5,1741 2265.5,1738.5 2255.5,1739.8 2248,1746 2243,1754.8 2235.5,1761 2228,1766 2220.5,1771 2213,1778.5 2203,1776 2193,1774.8 2190.5,1766 2191.8,1758.5 2185.5,1752.2 2175.5,1746 2163,1741 2150.5,1738.5 2138,1737.2 2125.5,1737.2 2113,1738.5 2100.5,1742.2 2088,1746 2075.5,1748.5 2063,1752.2 2050.5,1754.8 2040.5,1756 2030.5,1754.8 2020.5,1756 2008,1757.2 1998,1756 1988,1753.5 1978,1754.8 1968,1758.5 1960.5,1763.5 1955.5,1771 1958,1791 1968,1806 1978,1816 1993,1826 1988,1836 1978,1838.5 1970.5,1846 1968,1836 1960.5,1823.5 1948,1823.5 1938,1826 1930.5,1833.5 1918,1838.5 1905.5,1839.8 1893,1841 1883,1839.8 1875.5,1833.5 1865.5,1828.5 1860.5,1823.5 1863,1816 1853,1811 1845.5,1806 1845.5,1799.8 1838,1806 1838,1813.5 1822,1816 1807,1813.5 1792,1813.5 1779.5,1809.8 1767,1804.8 1754.5,1799.8 1742,1800.5 1729.5,1802.2 1717,1806 1704.5,1808.5 1692,1812.2 1679.5,1817.2 1672,1823.5 1664.5,1831 1654.5,1838.5 1647,1846 1639.5,1853.5 1632,1861 1619.5,1867.2 1607,1871 1594.5,1877.2 1584.5,1883.5 1574.5,1891 1564.5,1898.5 1554.5,1906 1544.5,1916 1537,1926 1529.5,1936 1524.5,1948.5 1520.8,1961 1518.2,1976 1517.8,1991 1520,2006 1525.8,2021 1530.5,2038 1530.6,2038 1531.2,2045 1521.2,2047.5 1516.2,2053.1 1510,2050 1501.2,2041.2 1492.5,2039.4 1478.8,2039.8 1467.5,2038.1 1467,2038 1454.5,2028.5 1442,2023.5 1429.5,2016 1417,2014.8 1413.2,2001 1407,1986 1399.5,1976 1398.2,1966 1400.8,1956 1395.8,1938.5 1387,1933.5 1378.2,1923.5 1372,1911 1367,1903.5 1358.2,1898.5 1353.2,1891 1350.8,1878.5 1345.8,1868.5 1340.8,1856 1335.8,1843.5 1329.5,1833.5 1319.5,1823.5 1309.5,1813.5 1302,1803.5 1294.5,1794.8 1292,1792.2 1292,1792.2 1278.5,1792.2 1266,1789.8 1256,1788.5 1244.8,1783.5 1242.2,1788.5 1227.2,1789.8 1221,1798.5 1216,1813.5 1211,1823.5 1203.5,1827.2 1196,1836 1193.5,1838.5 1186,1837.2 1181,1833.5 1174.8,1829.8 1166,1823.5 1161,1817.2 1151,1813.5 1141,1808.5 1136,1801 1126,1794.8 1119.8,1788.5 1116,1776 1114.8,1766 1114.8,1751 1109.8,1741 1106,1728.5 1101,1718.5 1091,1712.2 1081,1708.5 1071,1698.5 1069.8,1691 1058.5,1681 1051,1671 1038.5,1663.5 1033.5,1648.5 1021,1638.5 1019.8,1632.2 1021,1639.8 933.5,1629.8 929.8,1659 883.5,1653 773.5,1637.2 586.2,1527.8 588.8,1516.5 596.2,1512.8 465,1499.5 465,1499.5 462.5,1484 464.5,1469 462.5,1454 455,1439 445,1424 437.5,1414 430,1407.8 417.5,1406.5 417,1389 410,1385.2 397.5,1384 385,1374 378.8,1366.5 375,1356.5 365,1347.8 355,1346.5 345,1340.2 332.5,1336.5 321.2,1336 318.8,1329 313.8,1325.2 318.8,1314 318.8,1304 323.8,1290.2 313.8,1281.5 316.2,1267.8 307.5,1261.5 305,1250.2 298.8,1244 296.2,1231.5 292.5,1219 286.2,1206.5 280,1199 280,1194 280,1194 281.2,1182 292.5,1174.5 295,1164.5 287.5,1157 277.5,1147 270,1134.5 272.5,1122 271.2,1109.5 275,1097 266.2,1089.5 258.8,1079.5 261.2,1067 258.8,1049.5 252.5,1037 246.2,1024.5 237.5,1009.5 241.2,997 241.2,982 248.8,967 248.8,952 242.5,932 232.5,917 235,904.5 245,894.5 256.2,884.5 258.8,869.5 267.5,852 272.5,842 268.8,827 273.8,814.5 268.8,802 270,787 275,772 273.8,772 275,757.5 285,745 292.5,732.5 301.2,722.5 310,707.5 317.5,692.5 323.8,675 328.8,660 333.8,645 338.8,630 345,620 350,605 353.8,590 357.5,575 362.5,565 363.8,562.5 361.2,550 362.5,540 365,525 368.8,510 372.5,500 370.5,485 372,470 371.2,455 366.2,440 368,425 372.5,412.5 380,417.5 390,427.5 400,436.2 412.5,440 425,445 437.5,446.2 450,450 460,425 462.5,402.5Z"/>
<path d="M1891.8,621.2 1903,612.5 1915.5,602.5 1928,597.5 1923,607.5 1913,616.2 1900.5,623.8 1894.2,626.2Z"/>
<path d="M2137.5,715.6 2150,710 2160,716.2 2157.5,722.5 2140,721.2Z"/>
<path d="M2655.2,983.2 2671.5,972 2696.5,960.8 2719,947 2734,934.5 2751.5,923.2 2736.5,925.8 2719,939.5 2699,948.2 2679,958.2 2664,970.8 2654,980.8Z"/>
<path d="M326.2,1366.5 336.2,1367.8 336.2,1374 328.8,1374.5Z"/>
<path d="M342,1366.5 350,1369 354.5,1374.5 347.5,1375.2 342.5,1371.5Z"/>
<path d="M401.2,1420.2 410,1425.2 414.5,1434.5 408.8,1434 403.8,1427.8Z"/>
<path d="M363.8,562.5 375,557.5 385,558.8 392.5,567.5 400,568.8 407.5,576.2 408.8,590 406.2,600 403.8,607.5 412.5,611.2 422.5,618.8 432.5,618.8 443.8,614.5 452.5,615 462.5,617.5 472.5,621.2 475,627.5 487.5,627.5 500,626.2 507.5,631.2 520,631.2 532.5,628.8 547.5,627 560,629.5 575,627.5 580,628 665,647.5"/>
<path d="M702.5,461.2 666.2,625 665,647.5"/>
<path d="M665,647.5 670,660 680,668.8 681.2,677.5 675,686.2 668.8,697.5 662.5,707.5 655,716.2 650,725 640,727.5 633.8,740 628.8,750 630,760 640,766.2 637.5,772"/>
<path d="M745,471.2 731.2,530 731.2,535 737.5,550 741.2,562.5 737.5,570 746,580"/>
<path d="M746,581.2 753.5,586.2 757.2,597.5 763.5,610 768.5,622.5 776,627.5 788.5,632.5 783.5,645 778.5,657.5 773.5,667.5 774.8,677.5 771,685 766,692.5 764.8,700 773.5,707.5 783.5,702.5 791,696.2 798.5,705 798.5,720 803.5,732.5 807.2,745 806,755 816,760 821,772"/>
<path d="M1253.5,547 1246,637.5 1239.8,705 1236,740 1233.5,772"/>
<path d="M1237.2,739.5 1292,745"/>
<path d="M1545.8,562 1549.5,577.5 1548.2,590 1548.2,610 1552,625 1555.8,637.5 1560,647.5 1561.5,665 1563.2,685 1564.5,695 1564,710 1567,725 1572,732.5 1573.2,750 1572,762.5 1567,772"/>
<path d="M1292,745 1417,753 1542,762.5 1572,763.8"/>
<path d="M1773.2,698.8 1764.5,705 1764.5,732.5 1764.5,742.5 1759.5,750 1747,760 1739.5,772"/>
<path d="M1846.8,708 1858,717.5 1861.8,723.8 1908,732.5 1920.5,738.8 1938,737.5 1953,742.5 1953,751.2 1965.5,755 1969.2,760 1968.8,765 1965,778.8 1975,775 1976.2,778.8 1973,785 1973,791.2 1978.8,795"/>
<path d="M2621.5,695 2622.8,705 2625.2,720 2631.5,727.5 2632.8,740 2631.5,755 2636.5,765 2639,772"/>
<path d="M2701.5,673.8 2702.8,687.5 2701.5,695 2709,702.5 2706.5,710 2699,720 2690.2,725 2691.5,735 2694,742.5 2691.5,755 2689,772"/>
<path d="M2717.8,653.8 2754,772"/>
<path d="M275,1097 282.5,1092 281.2,1079.5 295,1073.2 293.8,1084.5 305,1083.2 312.5,1092 322.5,1087 335,1097 317.5,1095.8 300,1089.5 287.5,1087 287.5,1102 290,1119.5 295,1127 285,1117 280,1107 277.5,1097"/>
<path d="M242.5,1088.2 246.2,1090.8"/>
<path d="M249.5,1095 251.2,1098.2"/>
<path d="M272.5,812 325,828.2 400,849.5 466.2,867.5 603.8,900 746,930"/>
<path d="M466.2,867.5 418.8,1052 420,1059.5 435,1082 511.2,1194"/>
<path d="M637.5,772 630,784.5 603.8,900"/>
<path d="M742.5,930 693.8,1194"/>
<path d="M818.5,769.5 821,784.5 827.2,790 832.2,782 848.5,787 853.5,780.8 866,785.8 876,787 891,788.2 892.2,779.5 897.2,775.8 902.2,782 906,790.8 909.8,795.8"/>
<path d="M914,767 909.8,795.8 882.2,954.5 874.8,1019.5"/>
<path d="M913.5,762.5 983.5,772 1058.5,785.8 1146,793.2 1231,801.5"/>
<path d="M1233.5,772 1231,801.5 1221,929.5 1209.8,1057"/>
<path d="M746,929.5 882.2,954.5"/>
<path d="M874.8,1019.5 969.8,1034 1209.8,1057 1292,1067"/>
<path d="M969.8,1034 946,1194"/>
<path d="M1221,929.5 1292,935.8"/>
<path d="M1567,769.5 1559.5,772 1562,782 1567,790.8 1577,794.5 1578.2,847 1577,913.2"/>
<path d="M1570.8,914 1667,913.2 1819.5,907.5"/>
<path d="M1570.8,914 1572,927 1577,937 1575.8,949.5 1570.8,959.5 1568.2,969.5 1574.5,977 1579.5,979.5"/>
<path d="M1292,935.8 1392,942 1480.8,944.5 1489.5,950.8 1503.2,960.8 1509.5,953.2 1524.5,954.5 1539.5,954.5 1547,962 1559.5,964.5 1567,972 1574.5,978.2"/>
<path d="M1579.5,979.5 1582,994.5 1587,1007 1592,1014.5 1594.5,1027 1593.2,1037 1602,1047 1603.2,1059.5 1605.8,1072 1608.2,1084.5 1604.5,1094.5 1610.8,1102 1614.5,1119.5 1622,1129.5 1628.2,1139.5 1637,1147 1649.5,1147 1653.2,1157 1647,1164.5 1642,1174.5 1652,1184.5 1657,1194"/>
<path d="M1610.8,1102.5 1717,1100 1807,1095.8 1814.5,1104.5 1819.5,1112"/>
<path d="M1302,1130.8 1492,1139.5 1628.2,1140"/>
<path d="M1292,1067 1305.8,1067.5 1302,1130.8 1299.5,1194"/>
<path d="M1739.5,772 1749.5,782 1745.8,797 1744.5,812 1745.8,832 1757,842 1767,847 1782,854.5 1789.5,867 1802,874.5 1812,882 1818.2,894.5 1819.5,907.5 1822,919.5 1829.5,924.5 1824.5,937 1829.5,952 1838,957"/>
<path d="M1850.5,971.5 1984.2,962"/>
<path d="M2003,1013.2 2010.5,1097 2016.8,1167 2013,1177 2015.5,1184.5 2020.5,1194"/>
<path d="M2039.2,1005.8 2133,994.5 2195.5,989.5"/>
<path d="M2133,994.5 2151.8,1169.5"/>
<path d="M2331.8,954.5 2356.8,1097 2384,1092"/>
<path d="M2348,1039.5 2340.5,1042 2345.5,1054.5 2346.8,1072 2340.5,1097 2338,1107 2330.5,1117 2320.5,1127 2313,1123.2 2305.5,1134.5 2303,1147 2300.5,1160.8 2295.5,1162 2290.5,1152 2285.5,1164.5 2283,1177 2278,1187 2273,1194"/>
<path d="M2151.8,1169.5 2163,1172 2170.5,1169.5 2178,1177 2183,1187 2195.5,1189.5 2205.5,1194"/>
<path d="M2213,1189.5 2228,1192 2240.5,1184.5 2250.5,1183.2 2255.5,1192 2263,1194"/>
<path d="M2151.8,1169.5 2149.2,1177 2153,1184.5 2148,1189.5 2123,1194"/>
<path d="M2364.2,928.2 2366.8,944.5 2384,942.5"/>
<path d="M1838,959.5 1846.8,962 1850.5,971.5 1861.8,979.5 1865.5,989.5 1875.5,995.8 1878,1004.5 1875.5,1017 1870.5,1024.5 1868,1034.5 1855.5,1037 1838,1042"/>
<path d="M1877,1000 1867,1035 1837,1042.5 1834.5,1060 1842,1070 1839.5,1090 1822,1100 1817,1130 1822,1150 1842,1170 1857,1185 1862,1194"/>
<path d="M2754,772 2766,783"/>
<path d="M1838,1164.5 1850.5,1172 1860.5,1184.5 1861.8,1194"/>
<path d="M2384,942.5 2459,929.5 2539,912 2569,904.5 2576.5,904.5 2584,912 2591.5,917 2594,927 2601.5,933.2 2611.5,935.8"/>
<path d="M2611.5,935.8 2609,947 2604,957 2599,965.8 2604,972 2599,979.5 2600.2,989.5 2606.5,997 2619,1004.5 2630.2,1014.5 2621.5,1022 2614,1032 2611.5,1037 2604,1042 2596.5,1043.2 2589,1047 2585.2,1052"/>
<path d="M2611.5,937 2656.5,950.8 2657.8,964.5 2654,972"/>
<path d="M2384,1092 2484,1074.5 2585.2,1052"/>
<path d="M2585.2,1052 2589,1067 2596.5,1097 2606.5,1132 2636.5,1125.8"/>
<path d="M2406.5,1088.2 2412.8,1122 2426.5,1104.5 2439,1099.5 2441.5,1087 2456.5,1089.5 2471.5,1079.5 2484,1082 2491.5,1089.5 2494,1097 2506.5,1099.5 2509,1107 2524,1110.8 2534,1112 2541.5,1119.5 2536.5,1132 2529,1139.5 2526.5,1149.5 2531.5,1157"/>
<path d="M2464,1094.5 2494,1110.8 2495.2,1094.5"/>
<path d="M2464,1094.5 2466.5,1114.5 2459,1124.5 2451.5,1139.5 2439,1140.8 2436.5,1159.5 2431.5,1174.5 2416.5,1169.5 2410.2,1162 2409,1177 2401.5,1194"/>
<path d="M2639,772 2640.2,782 2649,787 2654,804.5 2659,834.5 2659,879.5 2664,902 2669,932 2674,935.8 2664,945.8"/>
<path d="M2686.5,772 2690.2,797 2689,819.5 2696.5,825"/>
<path d="M2659,834.5 2696.5,825.8 2746.5,815 2754,809.5 2764,797 2770.2,795.8"/>
<path d="M2660.2,880.8 2691.5,874.5 2739,863.2 2757.8,858.2 2761.5,869.5"/>
<path d="M2739,864.5 2749,904.5"/>
<path d="M2609,1157 2634,1152"/>
<path d="M511.2,1194 627.5,1366.5"/>
<path d="M627.5,1366.5 626.2,1379 631.2,1391.5 635,1406.5 645,1419 640,1425.2 627.5,1429 620,1437.8 618.8,1451.5 615,1461.5 603.8,1470.2 602.5,1481.5 598.8,1491.5 610,1496.5 610,1506.5 605,1512.8 596.2,1512.8"/>
<path d="M627.5,1366.5 633.8,1359 631.2,1339 633.8,1319 636.2,1299 647.5,1296.5 656.2,1299 661.2,1309 670,1301.5 673.8,1294 685,1247.8 693.8,1194"/>
<path d="M685,1247.8 746,1260.2"/>
<path d="M946,1194 943.5,1219 934.8,1289 916,1419 888.5,1616"/>
<path d="M746,1259.5 846,1275.2 934.8,1289 1046,1304 1171,1317 1241,1323.5 1292,1326"/>
<path d="M1241,1323.5 1237.2,1354 1292,1357.8"/>
<path d="M1237.2,1354 1229.8,1444 1216,1616"/>
<path d="M1298.5,1194 1290,1325"/>
<path d="M1292,1324.5 1392,1330.2 1499.5,1335.2 1587,1336 1668.2,1334.8"/>
<path d="M1292,1357.8 1393.2,1364.5 1390.8,1419 1388.2,1489"/>
<path d="M1388.2,1489 1394.5,1490.2 1402,1501.5 1409.5,1500.2 1417,1502.8 1420.8,1497.8 1428.2,1504 1429,1512.8 1439.5,1512.8 1449.5,1519 1458.2,1516.5 1467,1524 1472,1517.8 1487,1519 1489.5,1529 1494.5,1537.8 1502,1536.5 1509.5,1529 1517,1534 1523.2,1540.2 1533.2,1534 1535.8,1546.5 1540.8,1546.5 1547,1534 1552,1537.8 1559.5,1540.2 1563.2,1535.2 1569.5,1541.5 1579.5,1549 1589.5,1541.5 1599.5,1537.8 1609.5,1539 1619.5,1534 1629.5,1537.8 1639.5,1531.5 1649.5,1537.8 1659.5,1545.2 1669.5,1549 1678.2,1552.8 1684.5,1557.8 1692,1556.5 1702,1556.5"/>
<path d="M1659.5,1194 1668.2,1195.2 1668.2,1289 1668.2,1334.8 1669,1366.5 1672,1389 1677,1414 1680,1439 1679.5,1519 1678.2,1552.8"/>
<path d="M1669.5,1366.5 1838,1360.2"/>
<path d="M1702,1556.5 1703.2,1591.5 1704.5,1616"/>
<path d="M1703.2,1591.5 1838,1587"/>
<path d="M1861.8,1194 1863,1201.5 1870.5,1205.2 1878,1200.2 1891.8,1206.5 1886.8,1214 1889.2,1221.5 1883,1231.5 1880.5,1244 1884.2,1251.5 1893,1257.8 1903,1265.2 1913,1271.5 1923,1279 1928,1289 1930.5,1299 1926.8,1306.5 1930.5,1314 1938,1321.5 1945.5,1321.5 1949.2,1329 1948,1341.5 1945.5,1351.5 1938,1354 1930.5,1352.8 1929.2,1364 1925.5,1374 1928,1384 1924.2,1394 1920.5,1404 1913,1409 1915.5,1416.5 1910.5,1424 1904.2,1430.2 1905.5,1441.5 1900.5,1454 1899.2,1461.5 1890.5,1466.5 1885.5,1476.5 1886.8,1489 1880.5,1499 1875.5,1506.5 1868,1514 1866.8,1524 1860.5,1529 1863,1536.5 1854.2,1546.5 1855.5,1556.5 1859.2,1564 1858,1576.5 1859.2,1589 1861.8,1599 1863,1606.5 1865.5,1616"/>
<path d="M1945.5,1321.5 1950.5,1311.5 1958,1306.5 1968,1310.2 1978,1316.5 1984.2,1311.5 1979.2,1301.5 1980.5,1292.8 1990.5,1290.2 2000.5,1287.8 1995.5,1279 1996.8,1269 2003,1262.8 2013,1260.2 2021.8,1256.5 2030.5,1255.2 2038,1256.5 2045.5,1264 2050.5,1255.2 2059.2,1247.8 2063,1254 2070.5,1257.8 2074.2,1242.8 2081.8,1234 2088,1241.5 2098,1246.5 2106.8,1240.2 2106.8,1229 2113,1221.5 2118,1214 2124.2,1206.5 2125.5,1196.5 2138,1194"/>
<path d="M2020.5,1194 2021.8,1204 2016.8,1211.5 2013,1221.5 2008,1231.5 2000.5,1236.5 2001.8,1249 1998,1259 2003,1264"/>
<path d="M2268,1194 2268,1214 2278,1224 2285.5,1236.5 2295.5,1246.5 2304.2,1250.2 2295.5,1264 2280.5,1276.5 2270.5,1284 2268,1294 2258,1301.5 2250.5,1309 2238,1316.5 2230.5,1319"/>
<path d="M2304.2,1250.2 2313,1261.5 2324.2,1267.8 2331.8,1262.8 2338,1256.5 2348,1261.5 2358,1255.2 2365.5,1247.8 2373,1246.5 2384,1240.2"/>
<path d="M1938,1355.2 2008,1350.2 2006.8,1339 2016.8,1339 2088,1332.8 2163,1326.5 2230.5,1320.2 2320.5,1306.5 2384,1300.2"/>
<path d="M1838,1361 1898,1358.5 1904.2,1366.5 1904.2,1374 1895.5,1381.5 1888,1391.5 1923,1390.2"/>
<path d="M1901.8,1456.5 2006.8,1447.8 2140.5,1435.2 2208,1427.8 2248,1422.8 2273,1417.8 2293,1409 2308,1400.2 2338,1397.8 2378,1394 2379.2,1399 2384,1396.5"/>
<path d="M2330.5,1307.8 2331.8,1322.8 2323,1326.5 2316.8,1339 2305.5,1341.5 2295.5,1351.5 2288,1349 2275.5,1359 2273,1366.5 2263,1369 2250.5,1379 2238,1386.5 2228,1391.5 2220.5,1401.5 2218,1411.5 2208,1415.2 2208,1427.8"/>
<path d="M2273,1419 2263,1429 2261.8,1440.2 2273,1446.5 2283,1451.5 2288,1450.2 2295.5,1466.5 2305.5,1479 2313,1484 2325.5,1491.5 2333,1501.5 2345.5,1509 2350.5,1519 2363,1529 2375.5,1534 2380.5,1549 2384,1561.5"/>
<path d="M2006.8,1447.8 2013,1455.2 2012.5,1519 2009.2,1616"/>
<path d="M2140.5,1435.2 2175.5,1564 2183,1579 2188,1591.5 2195.5,1606.5 2200.5,1614 2193,1616"/>
<path d="M1838,1588.5 1858,1588.5"/>
<path d="M2384,1300.2 2404,1297.8 2484,1279 2559,1266.5 2614,1255.2"/>
<path d="M2384,1396.5 2395.2,1412.8 2452.8,1403.5 2516.5,1451.5"/>
<path d="M2404,1194 2399,1206.5 2391.5,1216.5 2394,1229 2384,1241.5"/>
<path d="M2384,1561.5 2391.5,1569 2399,1579 2404,1594 2409,1606.5 2405.2,1616"/>
<path d="M1019.8,1632.2 1019.8,1627.2 1213.5,1644.8 1217.2,1616"/>
<path d="M888.5,1616 883.5,1653"/>
<path d="M1704.5,1616 1705,1659.8 1714.5,1666 1717,1678.5 1724.5,1691 1729.5,1703.5 1734.5,1716 1732,1733.5 1727,1746 1723.2,1761 1727,1776 1722,1788.5 1714.5,1798.5 1717,1806"/>
<path d="M1672,1823.5 1667,1816 1672,1808.5 1670.8,1801 1662,1803.5 1653.2,1811 1657,1821 1659.5,1828.5 1652,1836 1642,1838.5 1638.2,1847.2"/>
<path d="M1568.2,1879.8 1579.5,1873.5 1587,1877.2 1577,1886 1568.2,1879.8"/>
<path d="M1552,1889.8 1555.8,1887.2 1558.2,1898.5 1554.5,1901 1552,1889.8"/>
<path d="M1518.2,1926 1525.8,1922.2 1532,1931 1523.2,1934.8 1518.2,1926"/>
<path d="M1667,1827.2 1652,1839.8 1637,1852.2 1617,1864.8 1597,1873.5 1579.5,1884.8 1562,1897.2 1547,1911 1537,1922.2"/>
<path d="M1539.5,1906 1532,1921 1524.5,1938.5 1517,1956 1512,1976 1509.5,1991 1512,2011 1517,2026 1520,2038"/>
<path d="M1527,1941 1522,1961 1519.5,1981 1520.8,2001 1524.5,2021 1528.2,2038"/>
<path d="M1994.2,1768.5 2000.5,1778.5 1995.5,1793.5 1985.5,1806 1978,1809.8"/>
<path d="M1995.5,1771 1998,1781 1993,1793.5"/>
<path d="M1863,1616 1875.5,1627.2 1868,1638.5 1863,1653.5 1853,1663.5 1848,1676 1843,1691 1838,1703.5 1835,1714.8 1838,1718"/>
<path d="M1838,1718 1944.2,1711.5 1938,1726 1940.5,1738.5 1948,1748.5 1953,1759.8 1955.5,1771"/>
<path d="M2009.2,1616 2010.5,1661 2015.5,1703.5 2019.2,1746"/>
<path d="M2200.5,1689 2060.5,1702.2 2059.2,1711 2070.5,1723.5 2075.5,1731 2071.8,1741 2063,1751"/>
<path d="M2193,1616 2190.5,1628.5 2190.5,1643.5 2198,1651 2195.5,1673.5 2203,1683.5 2208,1696 2211.8,1705.5 2360.5,1695.5 2363,1708.5 2370.5,1708.5 2369.2,1678.5 2384,1677.2"/>
<path d="M2030.5,1754.8 2038,1751 2036.8,1736 2033,1731 2038,1724.8 2045.5,1726 2046.8,1736 2050.5,1743.5 2055.5,1748.5 2058,1753.5"/>
<path d="M1940.5,1776 1945.5,1771 1953,1772.2 1955.5,1781 1948,1783.5 1941.8,1781"/>
<path d="M2401.5,1678.5 2396.5,1698.5 2391.5,1716 2399,1733.5 2404,1751 2399,1763.5 2406.5,1776 2409,1771 2404,1766"/>
<path d="M1507.5,1980 1508.8,1992.5 1511.2,2005 1512.5,2016.2 1517.5,2023.8 1520,2036.2 1522.5,2042.5 1521.2,2047.5"/>
<path d="M1515,1983.8 1518.8,1998.8 1522.5,2015 1526.2,2032.5 1527.5,2036.2"/>
</g>
<g fill="none" stroke="#000" stroke-linejoin="miter" stroke-linecap="square">
<path stroke-width="7.7" d="M2584,1065 2581.3,1067.3 2578.6,1069.6 2574.3,1067.8 2572.5,1072.6 2568.9,1071.8 2567,1074.7 2565.8,1078.2 2561.5,1078 2560.9,1082.3 2558.1,1083.3 2559.1,1087.3 2557.7,1090.4 2554.5,1092.7 2552.2,1095.8 2557.1,1098.5 2556.7,1101.7 2554.4,1105.1 2553.4,1109 2556.6,1111.4 2558.7,1114.2 2556,1118.4 2563,1119.5 2559.3,1124.6 2564,1126.4 2566.1,1129.1 2567.9,1131 2568.7,1134.3 2568,1138.7 2573.2,1138.8"/>
<path stroke-width="10.3" d="M2581.5,1085 2579.8,1087.8 2578.4,1090.6 2579.5,1094.3 2577.1,1096.9 2580.1,1101.2 2581.3,1101.7 2581.4,1105.3 2578.8,1110 2582.1,1112.3 2584.7,1114 2584.7,1117.9 2587.4,1119.8 2590.4,1121.5"/>
<path stroke-width="4.5" d="M2556.5,1130 2557.5,1133.2 2559.6,1135.5 2562.9,1136.9 2563.8,1140.2 2566.4,1142.6 2568,1146 2570.9,1148.1 2574.6,1149.4 2574.4,1153.6 2578.9,1154.1 2579.9,1157.3 2580.7,1160.6"/>
<path stroke-width="6.4" d="M2541.5,1116.2 2542,1120.3 2539.1,1123.1 2540.1,1127.4 2535.6,1129.7 2533.2,1131.6 2531.8,1134.7 2528.4,1136.2 2528.5,1140.7 2526.4,1143 2526.6,1146.2 2526.4,1149.3 2526.7,1152.5 2530.3,1153.4 2533.7,1153.2 2536.5,1149.9 2539.4,1152.5 2544.2,1151.2 2546,1156 2549.2,1157.6 2551.4,1161 2555,1162.1 2559.6,1161.5 2562.3,1163.4 2564.6,1166.3 2569.2,1164.7 2571.1,1168.3 2574.8,1168.4 2577.8,1170.4 2580.5,1172.1 2580.6,1177.1 2585.3,1176.4 2587.4,1178.9 2588.1,1182.8 2586.6,1186.6 2591.6,1188.3 2590.8,1191.9 2591.2,1195.1 2590.5,1198.7 2591.7,1201.7 2592.4,1204.9 2596.4,1207.2"/>
<path stroke-width="5.1" d="M2536.5,1165 2539.8,1165.9 2543,1166.9 2545.3,1170.3 2548.3,1171.8 2552.3,1170.4 2554.8,1172.2 2557.1,1174 2559.6,1175.7 2561.5,1178.3 2563.8,1180.3 2567.1,1181.2 2570.3,1182.3 2571.7,1185.7 2574.4,1187.6 2576.3,1190.2 2577.8,1193.5 2581,1194.6 2584,1196.1 2586.2,1198.4 2588.5,1200.6"/>
<path stroke-width="6.4" d="M2554,1201.2 2557.6,1199.3 2560.4,1204.2 2563.8,1204 2565.3,1206 2568,1207.5 2571.8,1207.7 2574.3,1209.6 2578,1211 2578.5,1215.5 2583.2,1215.8 2585.7,1218.3 2587.6,1221.4 2590.3,1223.7 2592.1,1226.9 2595.7,1228.3 2598.4,1230.6 2600.3,1233.7 2603,1236"/>
<path stroke-width="6.4" d="M2544,1221.2 2546.9,1220.3 2549.8,1218.2 2553.2,1222.5 2556.1,1220.9 2558.8,1218.1 2562.6,1220 2565.6,1221.7 2568.6,1223.1 2572.3,1223.1 2572.7,1228.8 2574.6,1231.9 2579.1,1232.4 2581.6,1234.9 2585.5,1235.5 2587.9,1237.8 2589.6,1240.9 2592.3,1242.8"/>
<path stroke-width="5.8" d="M2586.5,1246.2 2590.7,1245.5 2592.3,1240.7 2595.3,1238 2600.4,1240.8 2602.8,1237.6 2605.2,1234.7 2609.1,1235.2"/>
<path stroke-width="7.7" d="M2591.5,1140 2595.8,1140.7 2595.1,1145.1 2594.6,1149.4 2597.1,1151.4 2599.5,1153.9 2603.7,1156 2604.8,1159.6 2605.5,1163.5 2601,1165.9 2601.9,1169.3 2599.7,1172.1 2605.6,1172.7 2609.6,1173.3"/>
<path stroke-width="5.1" d="M2610.2,1220 2611.4,1216.6 2611.9,1213.2 2611.1,1209.9 2610.7,1206.6 2610.6,1203.2 2610,1199.9 2608.3,1196.8 2610.1,1194 2609.9,1190.9 2609,1187.7 2609.5,1184.7 2611.9,1181.5 2613,1178.4 2616,1175.9 2618.3,1173.2 2618.2,1169.3 2621.9,1167.2 2623.9,1164.2 2625.7,1161"/>
<path stroke-width="4.5" d="M2616.5,1217.5 2616.8,1214.4 2617.2,1211.4 2618,1208.5 2618.7,1205.5 2619.6,1202.6 2622,1200.1 2623.8,1197 2624.4,1193.6 2623.9,1190 2625.4,1186.8 2626.8,1183.6 2625,1179.6 2627.9,1177.3 2629.7,1174.6 2630,1171.5 2630.7,1168.6 2630.6,1165.4 2630.3,1162.2 2633.5,1159.8 2632.9,1156.3 2635.6,1153.9 2637.2,1151.1 2636.1,1147.4 2636.6,1144.4 2639.2,1141.8 2638.8,1138.6 2637.3,1135.3 2637.6,1132.3 2637.4,1129.6 2640,1126.4 2639.4,1123.4 2636.7,1120.6 2639,1117.4 2638.2,1113.7 2635.8,1111 2633.5,1108.3 2632.9,1104.9"/>
<path stroke-width="5.1" d="M2574,1276.2 2577.9,1276 2581.4,1276.8 2583.3,1281.9 2584.3,1283.3 2585.8,1286.3 2585,1289.9 2588,1292.4 2588.2,1297 2590.2,1300.6 2594.4,1298.2 2597.5,1297.7 2600.7,1297.2 2603.8,1296.4 2607.3,1295.9 2609.7,1292.9 2613.2,1291.6 2615.7,1288.6 2619.4,1292.1 2622.8,1290 2625.9,1290.8 2629,1291.6 2632,1294.7 2636.7,1294.7"/>
<path stroke-width="5.1" d="M2599,1287.5 2602.8,1286.3 2604,1282.5 2606.6,1280.1 2609.1,1277.6 2610.3,1274.1 2613.9,1274 2615.7,1271.4"/>
<path stroke-width="6.4" d="M2619,1297.5 2622.5,1299.7 2619.5,1304 2623.7,1305.9 2623.1,1309.5 2622.8,1312.9 2627.8,1311.5 2631.2,1309.1 2632.4,1306.7 2633.5,1303.4 2635.5,1300.4"/>
<path stroke-width="4.5" d="M2641.5,1302.5 2643.8,1305.5 2642.9,1309.2 2644.9,1312.3 2642.8,1315.5 2639.4,1316.9 2638.4,1320 2636.3,1322.4 2634,1325.4 2631.8,1328.5 2631.7,1332.6 2628.8,1333.8 2626.5,1335.8 2624,1337.5 2620.8,1336 2617.3,1336 2614,1334.9"/>
<path stroke-width="18" d="M2599,1330 2601,1333.2 2596.4,1339.7 2601.3,1341.3 2597.6,1342 2595.8,1345 2605,1350.9"/>
<path stroke-width="5.8" d="M2575.2,1331.2 2578.1,1332.8 2580.2,1335.7 2583.3,1336.5 2586.5,1332.1 2589.6,1330.8 2593.3,1331 2595.7,1328.1 2599.3,1327.2 2602.2,1324.8 2606.9,1325.7"/>
<path stroke-width="6.4" d="M2579,1357.5 2581.3,1360.7 2584.1,1363.1 2589.3,1361.5 2590.9,1366 2594.8,1365.2 2597.4,1361.9 2601.3,1365.2 2604.5,1365 2604.3,1358.5 2609.5,1356.9 2608.5,1352.3"/>
<path stroke-width="5.8" d="M2584,1365 2587.2,1366.8 2589,1370.8 2592.5,1372 2597.3,1371.1 2599.4,1371.7 2602.5,1371.6 2605.4,1370.2 2608.3,1369 2611.4,1369.1"/>
<path stroke-width="4.5" d="M2616.5,1355 2619.6,1355.8 2622.8,1353.2 2625.9,1355.2 2629,1354.8 2630.2,1351.2 2633.5,1349.5 2636.8,1347.8 2639,1345.7 2640.5,1342.4 2645.1,1343.3 2647.2,1340.9 2650.3,1338.8 2650.4,1333.9 2653.4,1331.9"/>
<path stroke-width="5.1" d="M2567.8,1385 2571.5,1387.3 2570.9,1392.3 2574.8,1394.5 2575.4,1391.4 2578.8,1389.8 2582.8,1388.8"/>
<path stroke-width="6.4" d="M1992.5,810.6 1995.7,807.8 1994.7,803 1995.8,799.2 2000.6,797.7 1999.9,794.1 2001.5,791.3 1999.4,787.3 2000.2,784.2 2005,782.3 2005.3,778.6 2005.1,774.6 2010.9,773.6 2011.4,769.6 2014.3,766.7 2013.1,761.3 2017.8,759.8 2014.8,755.3 2019.9,753.3 2018.8,749.4 2019.2,746 2020.9,743.2 2023.5,740.5"/>
<path stroke-width="7.7" d="M2905.2,626.2 2904.2,630 2902.8,633.4 2898.5,634.6 2897.8,638.5 2895.7,641.6 2893,643.6 2890.9,646.4 2887.8,647.9 2884.8,649.7 2882.3,651.7 2877.9,651.4 2877.4,655.8 2874,656.7 2872.8,660.4 2869.7,661.7 2868.6,665.6 2865.1,666.7 2863.6,670.1 2858,668.9 2856.3,672.3 2855.4,676.4 2851.6,677.6 2847,678 2848.9,683.9 2843.5,683.1 2843.3,687 2841,689 2837.4,689.8"/>
<path stroke-width="11.5" d="M2859,672.5 2857.2,675.7 2854,677.5 2850.2,678.7 2845.7,679.2 2847.5,685.7 2842,684 2840.2,686.9 2838.2,689.5 2837.1,693.2 2834.1,690 2830.4,687.9 2830.1,684.6 2828.5,681.8 2833.7,676.8"/>
<path stroke-width="7.1" d="M2834,700 2832.4,703.1 2830.2,705.6 2828,707.9 2822.7,706.4 2820.1,708.3 2818,710.3 2815.7,713.7 2812.7,715.2 2809.5,716.1 2806.7,717.2 2805.3,720.6 2801.7,721.3 2799.9,724.1 2794.8,722.9 2792.4,725.8 2792.5,729.8 2792.1,733.4 2786.8,733.3 2788.8,738.5 2787.3,741.6 2788,745.5 2784.7,747.8 2782.9,750.7 2781.5,753.7 2781.9,757.5 2779,760 2780.5,764.1 2777.8,766.5 2777.5,769.9 2774.6,772.2"/>
<path stroke-width="9" d="M2761.5,869.5 2766.3,870.8 2768.3,873.9 2768.4,878.1 2770.7,881 2772.2,883.5 2775.6,883.9 2778.5,886.3"/>
<path stroke-width="5.8" d="M2789,890.8 2792.7,889.8 2796.1,888.4 2799.8,887.4 2802.4,885.6 2805.8,885.7 2808.7,889.3"/>
<path stroke-width="4.5" d="M2820.2,887 2824.3,886.5 2827.6,889.5 2831.4,890 2833,886.2 2837.3,886.8"/>
<path stroke-width="4.5" d="M2650.2,1067 2653,1064.7 2653.6,1061.4 2655.4,1058.6 2657.1,1055.9 2656.3,1051.8 2659.1,1049.5 2659.8,1046.6 2661.9,1044 2662.6,1041.1 2663.5,1038.2 2663.5,1035 2665.4,1032.4 2664.9,1029.1 2665.2,1026.1 2663.7,1022.9 2663.2,1019.9 2663.9,1016.9"/>
<path stroke-width="4.5" d="M2774,772 2774,775.1 2774.5,778.2 2771.2,780.8 2771.8,784 2771,786.9 2772,790.2 2772.9,793.2 2774.5,796 2777.3,798.4 2775.4,802.4"/>
<path stroke-width="7.7" d="M2441.5,1554 2437.9,1555.4 2436.5,1559 2433.8,1561.3 2430.8,1563.3 2432.3,1568.3 2426.8,1569.1 2427.9,1573.5 2427.2,1577 2424.5,1579.3 2420.2,1580.8 2421.4,1585.1 2416.9,1585.6 2413.9,1587.3 2414.9,1591.5 2413.8,1594.4 2411.6,1596.6 2408.8,1598.3 2406.7,1600.5 2405.9,1603.6 2404.1,1606 2405.4,1610.5 2403.4,1612.8"/>
<path stroke-width="12.8" d="M1955.5,1771 1959.4,1772.8 1956.2,1778.2 1961.9,1779.1 1960.8,1783.3 1967.7,1783.6 1965.7,1791.1 1962.2,1793.1 1956.8,1794.2 1955.1,1797.1 1953.8,1800.2 1955.6,1805.3 1951.6,1807.2 1950.2,1810.6 1948.3,1813.7 1945.7,1818.1 1941.3,1810.3 1939.5,1818.2 1935.2,1810.4 1932.2,1811.4 1927,1816.6 1928.9,1811.3 1930.1,1806.4 1929.5,1803"/>
<path stroke-width="9" d="M1968,1813.5 1970.7,1814.8 1974,1815.4 1976.7,1816.7 1976.1,1823 1981.7,1820 1982.7,1824 1987.1,1825.6 1986.2,1830.2 1984.9,1835 1986.3,1837.8 1980.5,1835.2 1978.6,1839.1 1974,1838.5"/>
<path stroke-width="6.4" d="M1960.5,1763.5 1963.9,1763.6 1966.3,1760.2 1970.5,1762.7 1973,1759.7 1977.2,1758.6 1980.6,1759.7 1983,1763.5 1982.5,1767.1 1982.5,1770.7 1982.6,1774.4 1980.8,1777.7 1980.2,1781.2"/>
<path stroke-width="9" d="M1863,1826 1865.2,1829.4 1870.2,1824.4 1871.4,1830.8 1874.2,1832.4 1878.9,1828.3 1880.8,1834.9 1884.7,1834.1 1887.9,1836.2 1892.3,1832.4 1895.7,1833.8 1898.8,1833.2 1903.3,1836.9 1906.1,1833.2 1909.3,1830.7 1912.9,1830.5 1916.6,1829.6 1920.2,1828.1 1923.7,1828.7 1926.8,1834.5 1930.6,1830.6"/>
<path stroke-width="6.4" d="M2064.2,1749.8 2068.5,1749.4 2069,1744.3 2071.9,1742.2 2075.5,1741 2077.9,1737.9 2081.4,1737.3 2086,1738.5 2088.9,1736.6 2091.3,1736.1 2094.3,1734.8 2097.6,1736 2100.7,1735.9 2103.5,1734.7 2106.4,1736.5 2110.6,1734 2112.6,1738.5 2115.9,1736.2 2119.3,1737.1 2122.2,1735.8 2124.7,1733.1 2127.4,1731.1 2131.7,1735.5 2134.9,1731 2138.5,1732.6 2141.9,1731.7 2145.4,1731.2"/>
<path stroke-width="5.8" d="M2161.8,1737.2 2165.3,1738.1 2168.8,1738.9 2172,1735.2 2175.6,1736.8 2178.1,1737.9 2179,1741.2 2181.5,1743.2 2184.3,1745 2186.1,1748.1 2187.6,1751.1 2186.3,1755.7"/>
<path stroke-width="5.8" d="M2211.8,1776 2214.6,1774.4 2216.7,1771.7 2221.1,1773 2224.2,1771.9 2226,1767.7 2228.3,1764.5 2231.6,1762.8 2234.5,1760.5"/>
<path stroke-width="10.3" d="M2353,1866 2356.9,1866.4 2361.2,1866.2 2364,1869 2366.5,1872.2 2366.3,1876.4 2365.9,1880.5 2368.8,1882.3 2369.5,1884.7 2367.8,1888 2365.3,1890.9"/>
<path stroke-width="3.8" d="M1812,1801.5 1814.8,1799.9 1817.6,1798.5 1820.2,1796.4 1823.4,1795.8 1827.2,1796.6 1829,1792.9 1832.5,1795.5 1835.3,1797.4 1838,1799.6 1841.9,1799.2 1844.8,1800.8 1843,1804.5 1840.6,1806.7 1838.4,1809.1 1835,1810.6 1833.2,1813.3 1831.1,1815.7"/>
<path stroke-width="6.4" d="M2454,1797.2 2457.9,1797.8 2459.9,1800.1 2459.2,1804.8 2460.4,1807.7 2464.1,1808.4 2465.8,1811.3 2470.4,1811.7 2471,1815.6 2471,1820 2470.4,1822 2469.6,1825.7"/>
<path stroke-width="6.4" d="M2386.5,1922.2 2388.9,1925.9 2393.6,1923.5 2397.2,1924 2397.8,1922.5 2401.6,1921.9 2404.6,1920.5 2401.3,1923 2402.2,1926.5 2402.3,1930 2401.3,1933.4 2403.8,1936.8 2404.1,1940.2 2407.7,1942.9"/>
<path stroke-width="7.7" d="M2402.8,1618.5 2400.2,1621.6 2402.9,1625.9 2397.8,1628.4 2398.8,1632.3 2400.2,1636.3 2400.7,1639.8 2399.3,1643 2396.3,1645.8 2395.2,1649.1 2398.3,1653.1 2398,1656.5 2395.3,1659.3 2395.1,1662.7 2396.6,1666 2397.9,1669.2 2395.6,1672.7 2399.7,1675.8 2398.5,1679.2 2398.2,1682.9 2395.8,1687.1 2398.6,1690.2 2397.8,1694"/>
<path stroke-width="5.8" d="M2525,1996.2 2524.5,2000 2525,2004 2524.3,2007.7 2519.7,2009.4 2519.3,2012.9 2519.6,2016.7 2518.6,2020.5 2514.6,2022.1 2511.8,2024.5 2510.3,2028.7 2508.5,2032.6 2504,2033.1 2500.2,2033.9"/>
<path stroke-width="4.5" d="M2510,2035 2507.6,2038.9 2505,2042.5 2501.1,2044.8 2497.7,2047.7 2494.1,2048.1 2491.7,2051.1"/>
<path stroke-width="7.7" d="M2470,2015 2472.1,2018.5 2475.5,2020.1 2479.4,2020.7 2483.5,2020.9 2477.8,2022.8 2478.4,2028.4 2473.4,2023.1"/>
<path stroke-width="6.4" d="M2425,1973.8 2428.3,1976.3 2430.4,1979.6 2430.1,1984.5 2434.5,1983.5 2436.4,1987.8 2440,1986.2 2443.7,1985.4 2447,1986.5 2450.1,1988.3 2452.9,1991.2 2455.6,1994.3 2460.9,1992 2463.5,1995.8 2467.2,1997.5 2466.6,2003.9"/>
</g>
<g fill="url(#sp)" stroke="#000" stroke-width="2.4" stroke-linejoin="round">
</g>
<g fill="#000" stroke="#000" stroke-width="2" stroke-linejoin="round">
<path d="M450,450 440,457.5 450,467.5 440,475 435,482.5 425,490 417.5,495 425,500 417.5,510 420,518.8 432.5,517.5 445,510 455,505 457.5,490 460,475 468.8,470 473.8,466.2 467.5,457.5 470,447.5 465,437.5 472.5,430 470,417.5 462.5,415 455,410 440,412.5 438.8,422.5 445,430 452.5,435 455,442.5Z"/>
<path d="M1826,694 1830,685 1838,680 1843,682 1840,690 1836,697 1829,700Z"/>
<path d="M2063.5,741.6 2067,739 2074.9,739.5 2074.9,742.5 2072.2,744.2 2072.2,750.4 2069.6,753 2066.1,751.2 2065.2,746.9 2063.1,746Z"/>
<path d="M2055.5,763.4 2058.6,760.8 2061.2,762 2059.5,767.2 2056.4,766Z"/>
<path d="M2049,784.2 2052.5,783.9 2053.9,788.6 2049.9,792.1 2046.9,792.1 2046.9,789.5 2049,788.6Z"/>
<path d="M2070,782.8 2075,780.8 2075,789.8 2080,790.8 2081,796.8 2078,804.8 2072,804.8 2070,798.8Z"/>
<path d="M2104.4,718.5 2137.5,720.2 2137.5,722 2104.4,721.2Z"/>
<path d="M2106.2,727.5 2117.5,731.2 2123.8,737.5 2117.5,742.5 2111.2,737.5Z"/>
<path d="M2088.8,737.5 2102.5,738.1 2102.5,741.2 2088.8,740.6Z"/>
<path d="M2227.2,988.2 2230,993.5 2233.5,992.5 2231.8,998 2233.5,1002.2 2226.5,1000.5 2221.2,1003 2224.8,998Z"/>
<path d="M2719,947 2734,934.5 2751.5,923.2 2734,922 2724,932 2719,939.5Z"/>
<path d="M2759,912 2764,909.5 2765.2,915.8 2761.5,917Z"/>
<path d="M2776.5,807 2784,807 2785.2,813.2 2779,814.5Z"/>
<path d="M313.8,1359.5 322.5,1361 321.2,1364 315,1362.8Z"/>
<path d="M355,1371.5 362.5,1372.8 361.2,1376 356.2,1375.2Z"/>
<path d="M366.2,1375.5 370.5,1376.5 369.5,1378.5 366.5,1377.5Z"/>
<path d="M346.2,1420.2 353.8,1422 355,1426.5 348.8,1426Z"/>
<path d="M377,1414.5 379.5,1414.5 379.5,1417 377,1417Z"/>
<path d="M392.5,1449 397.5,1450.2 405,1466 400,1466.5 395,1456.5Z"/>
<path d="M460,1481.5 465,1484 468.8,1494 463.8,1497.8Z"/>
<path d="M2487.8,1489 2494,1485.2 2497.8,1501.5 2491.5,1506.5Z"/>
<path d="M2456.5,1526.5 2466.5,1524 2464,1544 2456.5,1549 2459,1536.5Z"/>
<path d="M2320.5,1783.5 2328,1788.5 2325.5,1797.2 2321.8,1791Z"/>
<path d="M2476.2,2056.2 2490,2048.8 2491.2,2051.2 2481.2,2060 2477.5,2059.4Z"/>
<path d="M2445,2061.2 2453.8,2058.8 2457.5,2054.4 2466.2,2054.4 2473.8,2060 2466.2,2065.6 2460,2065 2457.5,2067.5 2450,2070 2446.2,2073.8 2437.5,2074.4 2432.5,2077.5 2426.2,2077.5 2426.9,2073.8 2430,2073.1 2431.2,2068.8 2437.5,2070 2445,2066.2Z"/>
<path d="M2417.5,2071.2 2423.8,2071.2 2423.8,2077.5 2417.5,2077.5Z"/>
<path d="M2371.2,2075.6 2377.5,2073.1 2380,2075.6 2375,2080 2371.2,2079.4Z"/>
<path d="M2478.8,2032.5 2482.5,2032.5 2483.8,2036.2 2479.4,2036.5Z"/>
<path d="M2491.2,2037.5 2495,2038.1 2494.4,2041.2 2491.2,2041.2Z"/>
<path d="M2826.5,710 2834,711.2 2831.5,715Z"/>
<path d="M2839,712.5 2844,710 2842.8,715Z"/>
<path d="M2819,722.5 2822.8,722.5 2821.5,726.2Z"/>
</g>
<rect x="90" y="64" width="3091" height="2307" fill="none" stroke="#000" stroke-width="4"/>
<text x="1650.5" y="167.7" font-size="66.67" font-weight="bold" text-anchor="middle">U.S. Drought Monitor Class Change - CONUS</text>
<text x="1638.5" y="238.8" font-size="66" text-anchor="middle">1 Week</text>
<text x="397" y="2172" font-size="50" font-weight="bold" text-anchor="middle">May 26, 2020</text>
<text x="397" y="2232.2" font-size="50" font-weight="bold" text-anchor="middle">compared to</text>
<text x="397" y="2292.4" font-size="50" font-weight="bold" text-anchor="middle">May 19, 2020</text>
<text x="2281" y="2341.5" font-size="58.33" font-weight="bold" text-anchor="middle">droughtmonitor.unl.edu</text>
<g id="logo" transform="translate(2760 1290) scale(0.171762)">
<defs><clipPath id="lc"><circle cx="917" cy="801" r="640"/></clipPath>
<path id="arcTop" d="M 298.0 1089.6 A 683 683 0 1 1 1536.0 1089.6"/>
<path id="arcBot" d="M 139 801 A 778 778 0 0 0 1695 801"/></defs>
<g clip-path="url(#lc)">
<path fill="#3a5529" d="M0 0 H1863 V1300 L1510 1045 C1480 1015 1450 1000 1420 1000 C1390 998 1350 998 1320 1003 C1290 1010 1250 1025 1220 1037 C1190 1050 1150 1068 1120 1070 C1090 1072 1060 1075 1030 1065 C1000 1050 970 1040 940 1020 C910 995 870 965 840 952 C800 938 760 935 720 940 C680 948 640 970 600 990 C570 1005 530 1030 500 1035 C470 1040 430 1040 400 1030 C370 1018 350 1000 330 980 C310 960 295 945 250 880 L0 880 Z"/>
<path fill="#3b2014" d="M470 1290 C510 1290 560 1270 590 1245 C620 1220 650 1190 680 1170 C710 1152 740 1145 770 1148 C800 1150 830 1160 860 1178 C890 1195 920 1215 950 1228 C980 1240 1010 1245 1040 1243 C1070 1240 1100 1230 1130 1215 C1160 1200 1190 1180 1220 1160 C1250 1140 1290 1115 1320 1105 C1350 1095 1390 1090 1420 1095 C1450 1100 1480 1110 1520 1130 L1863 1100 V1688 H0 V1300 Z"/>
<g fill="none" stroke="#fff" stroke-width="17" stroke-linejoin="round"><path d="M760 1140 L828 1292 L690 1410"/><path d="M828 1292 L1118 1405 L1205 1195"/><path d="M1118 1405 L1075 1440"/><path d="M1225 1165 L1400 1245"/></g>
<path fill="#5762a9" d="M310 995 C330 1015 370 1050 400 1060 C430 1068 470 1070 500 1065 C530 1060 570 1035 600 1020 C640 1000 680 980 720 975 C760 970 800 972 830 985 C860 1000 900 1030 930 1050 C960 1070 990 1085 1020 1095 C1050 1102 1090 1105 1120 1100 C1150 1095 1190 1078 1220 1065 C1250 1052 1290 1035 1320 1030 C1350 1025 1380 1024 1400 1030 C1430 1040 1460 1055 1485 1085 C1460 1070 1430 1060 1400 1060 C1370 1060 1345 1065 1320 1075 C1290 1087 1250 1110 1220 1130 C1190 1150 1150 1177 1120 1190 C1090 1203 1050 1215 1020 1215 C990 1215 960 1205 930 1190 C900 1175 860 1150 830 1140 C800 1128 770 1120 740 1125 C710 1130 685 1142 660 1160 C630 1180 600 1215 570 1235 C540 1255 510 1268 478 1266 C460 1250 450 1240 440 1230 C415 1195 390 1155 370 1120 C350 1080 330 1040 310 995 Z"/>
</g>
<text x="917" y="860" font-size="455" font-weight="bold" text-anchor="middle" textLength="950" lengthAdjust="spacingAndGlyphs" style="fill:#fff;stroke:#fff;stroke-width:14;stroke-linejoin:round">NDMC</text>
<text font-size="125" font-weight="bold" style="fill:#3b2014;stroke:#3b2014;stroke-width:5" text-anchor="middle"><textPath href="#arcTop" startOffset="50%" textLength="2250" lengthAdjust="spacingAndGlyphs">NATIONAL DROUGHT MITIGATION CENTER</textPath></text>
<text font-size="125" font-weight="bold" style="fill:#3b2014;stroke:#3b2014;stroke-width:5" text-anchor="middle"><textPath href="#arcBot" startOffset="50%" textLength="1640" lengthAdjust="spacingAndGlyphs">UNIVERSITY OF NEBRASKA</textPath></text>
<circle cx="227" cy="1027" r="25" fill="#3b2014"/><circle cx="1603" cy="1027" r="25" fill="#3b2014"/>
</g>
<rect x="2641" y="1573" width="538" height="798" fill="#fff" stroke="#000" stroke-width="4"/>
<rect x="2683" y="1615.4" width="96" height="48.5" fill="#4f2f05" stroke="#6e6e6e" stroke-width="4"/>
<text x="2795.5" y="1654.0" font-size="34" letter-spacing="0.85">5 Class Degradation</text>
<rect x="2683" y="1681.9" width="96" height="48.5" fill="#a66c04" stroke="#6e6e6e" stroke-width="4"/>
<text x="2795.5" y="1720.5" font-size="34" letter-spacing="0.85">4 Class Degradation</text>
<rect x="2683" y="1748.4" width="96" height="48.5" fill="#ff9900" stroke="#6e6e6e" stroke-width="4"/>
<text x="2795.5" y="1787.0" font-size="34" letter-spacing="0.85">3 Class Degradation</text>
<rect x="2683" y="1814.9" width="96" height="48.5" fill="#ffd53b" stroke="#6e6e6e" stroke-width="4"/>
<text x="2795.5" y="1853.5" font-size="34" letter-spacing="0.85">2 Class Degradation</text>
<rect x="2683" y="1881.4" width="96" height="48.5" fill="#ffff73" stroke="#6e6e6e" stroke-width="4"/>
<text x="2795.5" y="1920.0" font-size="34" letter-spacing="0.85">1 Class Degradation</text>
<rect x="2683" y="1947.9" width="96" height="48.5" fill="#cccccc" stroke="#6e6e6e" stroke-width="4"/>
<text x="2795.5" y="1986.5" font-size="34" letter-spacing="0.85">No Change</text>
<rect x="2683" y="2014.4" width="96" height="48.5" fill="#ccffd5" stroke="#6e6e6e" stroke-width="4"/>
<text x="2795.5" y="2053.0" font-size="34" letter-spacing="0.85">1 Class Improvement</text>
<rect x="2683" y="2080.9" width="96" height="48.5" fill="#8cd68e" stroke="#6e6e6e" stroke-width="4"/>
<text x="2795.5" y="2119.5" font-size="34" letter-spacing="0.85">2 Class Improvement</text>
<rect x="2683" y="2147.4" width="96" height="48.5" fill="#3b9966" stroke="#6e6e6e" stroke-width="4"/>
<text x="2795.5" y="2186.0" font-size="34" letter-spacing="0.85">3 Class Improvement</text>
<rect x="2683" y="2213.9" width="96" height="48.5" fill="#006978" stroke="#6e6e6e" stroke-width="4"/>
<text x="2795.5" y="2252.5" font-size="34" letter-spacing="0.85">4 Class Improvement</text>
<rect x="2683" y="2280.4" width="96" height="48.5" fill="#003c73" stroke="#6e6e6e" stroke-width="4"/>
<text x="2795.5" y="2319.0" font-size="34" letter-spacing="0.85">5 Class Improvement</text>
</svg>
</body></html>
